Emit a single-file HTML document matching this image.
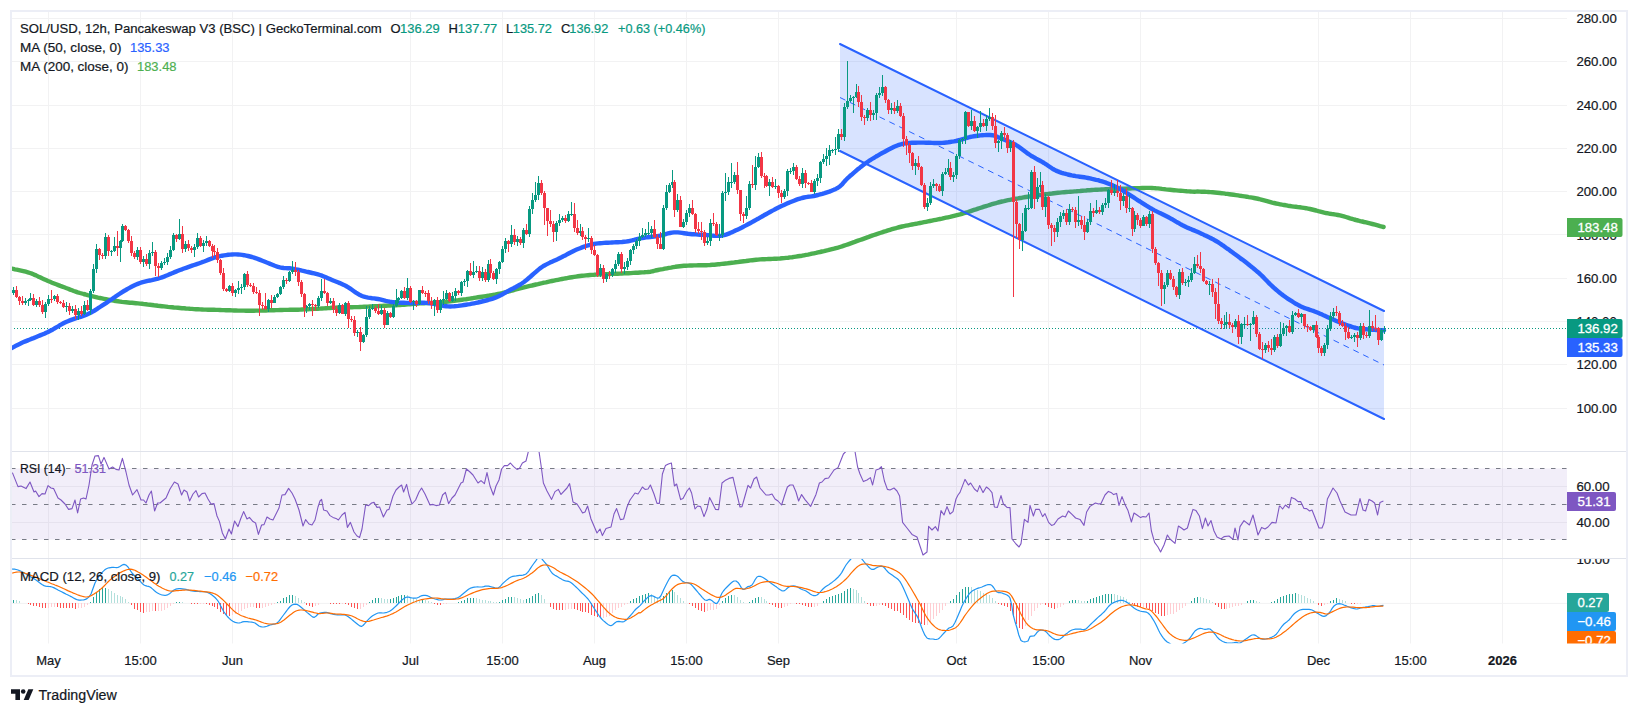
<!DOCTYPE html><html><head><meta charset="utf-8"><title>SOL/USD</title><style>html,body{margin:0;padding:0;background:#fff}body{width:1638px;height:715px;overflow:hidden;font-family:"Liberation Sans",sans-serif}</style></head><body><svg width="1638" height="715" viewBox="0 0 1638 715" style="display:block;font-family:'Liberation Sans',sans-serif">
<defs>
<clipPath id="cm"><rect x="11" y="11" width="1556" height="440.5"/></clipPath>
<clipPath id="cr"><rect x="11" y="452.0" width="1556" height="106.5"/></clipPath>
<clipPath id="cd"><rect x="11" y="559.0" width="1556" height="84.5"/></clipPath>
<clipPath id="cax1"><rect x="1567" y="11" width="60" height="440.5"/></clipPath>
<clipPath id="cax2"><rect x="1567" y="452.0" width="60" height="106.5"/></clipPath>
<clipPath id="cax3"><rect x="1567" y="559.0" width="60" height="84.5"/></clipPath>
</defs>
<rect width="1638" height="715" fill="#fff"/>
<path d="M48.5 11V643.5M140.5 11V643.5M232.5 11V643.5M410.5 11V643.5M502.5 11V643.5M594.5 11V643.5M686.5 11V643.5M778.5 11V643.5M956.5 11V643.5M1048.5 11V643.5M1140.5 11V643.5M1318.5 11V643.5M1410.5 11V643.5M1502.5 11V643.5M11 408.5H1567M11 364.5H1567M11 321.5H1567M11 278.5H1567M11 234.5H1567M11 191.5H1567M11 148.5H1567M11 105.5H1567M11 61.5H1567M11 18.5H1567M11 486.5H1567M11 522.5H1567M11 603.4H1567" stroke="#f2f2f3" stroke-width="1" fill="none"/>
<g clip-path="url(#cm)">
<line x1="11" y1="328.5" x2="1567" y2="328.5" stroke="#089981" stroke-width="1" stroke-dasharray="1 2"/>
<polyline points="10.0,268.0 12.0,268.6 13.3,268.9 14.9,269.3 16.8,269.7 18.9,270.1 21.1,270.6 23.4,271.1 25.7,271.7 27.9,272.3 30.0,273.0 32.0,273.7 34.0,274.6 36.0,275.4 38.0,276.4 40.0,277.3 42.0,278.3 44.0,279.2 46.0,280.1 48.0,281.0 50.0,281.8 52.1,282.7 54.1,283.5 56.2,284.3 58.3,285.1 60.3,285.9 62.3,286.6 64.2,287.3 66.0,288.0 68.2,288.8 70.1,289.6 72.0,290.3 73.8,291.0 75.7,291.6 77.7,292.3 80.0,293.0 81.8,293.5 83.6,294.0 85.6,294.5 87.6,295.1 89.6,295.6 91.7,296.1 93.8,296.6 95.9,297.1 98.0,297.6 100.0,298.0 102.0,298.4 104.0,298.8 106.0,299.2 108.0,299.6 110.0,300.0 112.0,300.3 114.0,300.7 116.0,301.0 118.0,301.3 120.0,301.6 122.0,301.9 124.0,302.1 126.0,302.3 128.0,302.5 130.0,302.7 132.0,302.8 134.0,303.0 136.0,303.2 138.0,303.4 140.0,303.6 142.0,303.8 144.0,304.1 146.0,304.3 148.0,304.6 150.0,304.8 152.0,305.0 154.0,305.3 156.0,305.5 158.0,305.8 160.0,306.0 162.0,306.2 164.0,306.4 166.0,306.6 168.0,306.9 170.0,307.1 172.0,307.3 174.0,307.5 176.0,307.6 178.0,307.8 180.0,308.0 182.0,308.2 184.0,308.3 186.0,308.5 188.0,308.6 190.0,308.8 192.0,308.9 194.0,309.1 196.0,309.2 198.0,309.3 200.0,309.4 202.0,309.5 204.0,309.6 206.0,309.6 208.0,309.7 210.0,309.8 212.0,309.8 214.0,309.8 216.0,309.9 218.0,309.9 220.0,310.0 222.0,310.1 224.0,310.1 226.0,310.2 228.0,310.3 230.0,310.3 232.0,310.4 234.0,310.5 236.0,310.5 238.0,310.6 240.0,310.6 242.0,310.6 244.0,310.6 246.0,310.7 248.0,310.7 250.0,310.7 252.0,310.7 254.0,310.7 256.0,310.6 258.0,310.6 260.0,310.6 262.0,310.6 264.0,310.5 266.0,310.5 268.0,310.4 270.0,310.3 272.0,310.3 274.0,310.2 276.0,310.1 278.0,310.1 280.0,310.0 282.0,310.0 284.0,309.9 286.0,309.9 288.0,309.9 290.0,309.8 292.0,309.8 294.0,309.8 296.0,309.7 298.0,309.7 300.0,309.6 302.0,309.5 304.0,309.4 306.0,309.4 308.0,309.3 310.0,309.1 312.0,309.0 314.0,308.9 316.0,308.8 318.0,308.7 320.0,308.6 322.0,308.5 324.0,308.4 326.0,308.2 328.0,308.1 330.0,308.0 332.0,307.8 334.0,307.7 336.0,307.6 338.0,307.5 340.0,307.4 342.0,307.3 344.0,307.3 346.0,307.2 348.0,307.2 350.0,307.2 352.0,307.2 354.0,307.1 356.0,307.1 358.0,307.1 360.0,307.0 362.0,306.9 364.0,306.8 366.0,306.7 368.0,306.6 370.0,306.5 372.0,306.4 374.0,306.3 376.0,306.2 378.0,306.1 380.0,306.0 382.0,305.9 384.0,305.8 386.0,305.7 388.0,305.6 390.0,305.5 392.0,305.4 394.0,305.3 396.0,305.2 398.0,305.1 400.0,305.0 402.0,304.9 404.0,304.7 406.0,304.5 408.0,304.4 410.0,304.2 412.0,304.0 414.0,303.9 416.0,303.7 418.0,303.5 420.0,303.4 422.0,303.3 424.0,303.2 426.0,303.1 428.0,303.0 430.0,302.9 432.0,302.9 434.0,302.8 436.0,302.7 438.0,302.6 440.0,302.4 442.0,302.2 444.0,302.0 446.0,301.8 448.0,301.6 450.0,301.3 452.0,301.1 454.0,300.8 456.0,300.5 458.0,300.3 460.0,300.0 462.0,299.7 464.0,299.4 466.0,299.2 468.0,298.9 470.0,298.6 472.0,298.3 474.0,297.9 476.0,297.6 478.0,297.3 480.0,297.0 482.0,296.7 484.0,296.4 486.0,296.1 488.0,295.8 490.0,295.4 492.0,295.1 494.0,294.8 496.0,294.4 498.0,294.0 500.0,293.6 502.0,293.2 504.0,292.7 506.0,292.2 508.0,291.6 510.0,291.1 512.0,290.5 514.0,290.0 516.0,289.4 518.0,288.9 520.0,288.4 522.0,287.9 524.0,287.4 526.0,286.9 528.0,286.4 530.0,285.9 532.0,285.5 534.0,285.0 536.0,284.5 538.0,284.1 540.0,283.6 542.0,283.2 544.0,282.7 546.0,282.3 548.0,281.8 550.0,281.4 552.0,281.0 554.0,280.6 556.0,280.2 558.0,279.8 560.0,279.4 562.0,279.0 564.0,278.6 566.0,278.3 568.0,277.9 570.0,277.5 572.0,277.2 574.0,276.9 576.0,276.6 578.0,276.3 580.0,276.0 582.0,275.8 584.0,275.6 586.0,275.4 588.0,275.2 590.0,275.0 592.0,274.9 594.0,274.8 596.0,274.6 598.0,274.5 600.0,274.4 602.0,274.3 603.9,274.2 605.8,274.1 607.6,274.1 609.5,274.0 611.5,273.9 613.4,273.9 615.5,273.8 617.7,273.7 620.0,273.6 621.9,273.5 624.0,273.4 626.2,273.3 628.5,273.2 630.8,273.1 633.2,272.9 635.6,272.8 637.9,272.7 640.1,272.5 642.2,272.4 644.2,272.3 646.0,272.1 647.6,272.0 650.6,271.7 652.3,271.3 653.7,271.0 655.3,270.5 658.0,270.0 659.5,269.7 661.2,269.4 662.9,269.1 664.8,268.7 666.8,268.3 668.9,267.9 671.0,267.6 673.2,267.2 675.4,266.8 677.6,266.5 679.8,266.2 682.0,266.0 683.9,265.8 685.9,265.7 687.9,265.6 689.9,265.5 692.0,265.5 694.1,265.4 696.2,265.4 698.3,265.3 700.4,265.3 702.5,265.3 704.5,265.2 706.4,265.2 708.2,265.1 710.0,265.0 712.3,264.8 714.4,264.7 716.3,264.5 718.2,264.3 720.0,264.2 721.8,263.9 723.7,263.7 725.6,263.5 727.7,263.3 730.0,263.0 731.8,262.8 733.6,262.6 735.6,262.3 737.6,262.1 739.7,261.8 741.8,261.5 743.9,261.2 746.0,261.0 748.1,260.7 750.2,260.4 752.3,260.2 754.2,260.0 756.2,259.8 758.0,259.6 760.2,259.4 762.4,259.3 764.5,259.2 766.5,259.1 768.5,259.0 770.5,259.0 772.4,258.9 774.3,258.8 776.2,258.8 778.1,258.6 780.0,258.5 782.1,258.3 784.1,258.1 786.1,257.9 788.1,257.7 790.1,257.4 792.1,257.2 794.1,256.9 796.0,256.6 798.0,256.3 800.0,256.0 802.0,255.7 804.0,255.3 806.0,254.9 808.0,254.6 810.0,254.2 812.0,253.7 814.0,253.3 816.0,252.9 818.0,252.4 820.0,252.0 822.0,251.5 824.0,251.1 826.0,250.6 828.0,250.2 830.0,249.7 832.0,249.2 834.0,248.7 836.0,248.1 838.0,247.6 840.0,247.0 842.0,246.4 844.0,245.7 846.0,245.0 848.0,244.3 850.0,243.6 852.0,242.9 854.0,242.2 856.0,241.4 858.0,240.7 860.0,240.0 862.0,239.3 864.0,238.6 866.0,237.9 868.0,237.2 870.0,236.4 872.0,235.7 874.0,235.0 876.0,234.3 878.0,233.7 880.0,233.0 882.0,232.4 884.0,231.7 886.0,231.1 888.0,230.4 890.0,229.8 892.0,229.2 894.0,228.6 896.0,228.1 898.0,227.5 900.0,227.0 902.0,226.5 904.0,226.1 906.0,225.7 908.0,225.3 910.0,224.9 912.0,224.5 914.0,224.1 916.0,223.8 918.0,223.4 920.0,223.0 922.0,222.6 924.0,222.2 926.0,221.8 928.0,221.4 930.0,221.0 932.0,220.6 934.0,220.2 936.0,219.8 938.0,219.4 940.0,219.0 942.0,218.6 944.0,218.1 946.0,217.7 948.0,217.3 950.0,216.9 952.0,216.4 954.0,215.9 956.0,215.4 958.0,214.9 960.0,214.4 962.0,213.8 964.0,213.2 966.0,212.6 968.0,212.0 970.0,211.3 972.0,210.6 974.0,209.9 976.0,209.3 978.0,208.6 980.0,208.0 982.0,207.4 984.0,206.7 986.0,206.1 988.0,205.5 990.0,204.8 992.0,204.2 994.0,203.6 996.0,203.1 998.0,202.5 1000.0,202.0 1002.0,201.5 1004.0,201.1 1006.0,200.6 1008.0,200.2 1010.0,199.8 1012.0,199.4 1014.0,199.1 1016.0,198.7 1018.0,198.4 1020.0,198.0 1022.0,197.7 1024.0,197.3 1026.0,197.0 1028.0,196.7 1030.0,196.4 1032.0,196.1 1034.0,195.8 1036.0,195.5 1038.0,195.3 1040.0,195.0 1042.0,194.7 1044.0,194.5 1046.0,194.2 1048.0,194.0 1050.0,193.7 1052.0,193.5 1054.0,193.2 1056.0,193.0 1058.0,192.8 1060.0,192.6 1062.0,192.4 1064.1,192.2 1066.3,192.0 1068.4,191.9 1070.5,191.7 1072.6,191.6 1074.6,191.4 1076.5,191.3 1078.3,191.1 1080.0,191.0 1082.4,190.8 1084.3,190.6 1086.0,190.5 1087.7,190.3 1089.6,190.2 1092.0,190.0 1093.7,189.9 1095.5,189.8 1097.4,189.7 1099.4,189.6 1101.5,189.5 1103.6,189.4 1105.7,189.3 1107.9,189.2 1110.0,189.1 1112.0,189.0 1114.0,188.9 1116.0,188.9 1118.0,188.8 1120.0,188.7 1122.0,188.7 1124.0,188.6 1126.0,188.6 1128.0,188.5 1130.0,188.5 1132.0,188.4 1134.0,188.3 1136.0,188.3 1138.0,188.2 1140.0,188.1 1142.0,188.0 1144.0,188.0 1146.0,187.9 1148.0,187.9 1150.0,187.9 1152.0,188.0 1154.0,188.1 1156.0,188.3 1158.0,188.4 1160.0,188.6 1162.0,188.9 1164.0,189.1 1166.0,189.4 1168.0,189.6 1170.0,189.8 1172.0,190.0 1174.1,190.2 1176.2,190.4 1178.4,190.6 1180.6,190.7 1182.8,190.9 1184.9,191.1 1186.9,191.3 1188.8,191.4 1190.5,191.5 1192.0,191.6 1194.6,191.7 1196.0,191.6 1197.4,191.5 1200.0,191.6 1201.5,191.7 1203.0,191.7 1204.7,191.8 1206.5,191.9 1208.4,192.0 1210.4,192.1 1212.6,192.3 1214.9,192.5 1217.4,192.7 1220.0,193.0 1221.7,193.2 1223.4,193.4 1225.3,193.7 1227.3,193.9 1229.4,194.2 1231.5,194.5 1233.7,194.8 1235.9,195.1 1238.1,195.4 1240.3,195.8 1242.5,196.1 1244.6,196.4 1246.7,196.7 1248.7,197.1 1250.6,197.4 1252.3,197.7 1254.0,198.0 1256.6,198.5 1259.0,199.0 1261.2,199.6 1263.2,200.1 1265.1,200.6 1267.0,201.1 1268.7,201.6 1270.5,202.1 1272.2,202.6 1274.0,203.0 1276.2,203.5 1278.2,203.9 1280.2,204.3 1282.1,204.7 1284.0,205.0 1286.0,205.3 1287.9,205.7 1290.0,206.0 1291.9,206.3 1293.9,206.6 1295.9,206.8 1297.9,207.1 1299.9,207.3 1301.9,207.6 1304.0,207.9 1306.0,208.2 1308.0,208.6 1310.0,209.0 1312.1,209.5 1314.1,210.0 1316.2,210.5 1318.3,211.1 1320.3,211.6 1322.3,212.1 1324.2,212.6 1326.0,213.0 1328.2,213.4 1330.2,213.8 1332.2,214.1 1334.1,214.3 1336.0,214.6 1337.9,215.0 1340.0,215.4 1341.9,215.9 1343.9,216.4 1345.9,217.0 1348.0,217.6 1350.1,218.3 1352.1,218.9 1354.1,219.5 1356.0,220.0 1358.1,220.5 1360.2,221.1 1362.2,221.5 1364.1,222.0 1366.1,222.4 1368.0,222.9 1370.0,223.4 1372.4,224.0 1375.1,224.7 1377.7,225.4 1380.1,226.1 1382.1,226.6 1383.6,227.0" fill="none" stroke="#4caf50" stroke-width="4.4" stroke-linejoin="round" stroke-linecap="round"/>
<polyline points="10.0,349.0 11.1,348.4 12.6,347.6 14.4,346.6 16.5,345.4 19.1,344.2 22.0,342.8 23.6,342.1 25.3,341.4 27.2,340.6 29.2,339.8 31.3,338.9 33.5,338.1 35.7,337.2 37.9,336.3 40.1,335.4 42.3,334.5 44.3,333.7 46.2,332.8 48.0,332.0 50.3,330.8 52.5,329.7 54.4,328.5 56.3,327.4 58.2,326.3 60.0,325.2 61.9,324.1 63.9,323.0 66.0,322.0 67.9,321.2 69.9,320.4 72.0,319.6 74.1,318.9 76.3,318.2 78.5,317.5 80.6,316.8 82.6,316.1 84.6,315.4 86.4,314.7 88.0,314.0 90.6,312.8 92.7,311.6 94.6,310.5 96.4,309.4 98.1,308.2 100.0,307.0 102.0,305.7 104.0,304.4 106.0,303.1 108.0,301.7 110.0,300.3 112.0,299.0 114.0,297.7 115.9,296.3 117.8,295.0 119.7,293.7 121.8,292.3 124.0,291.0 125.8,290.0 127.6,288.9 129.5,287.9 131.5,286.8 133.5,285.8 135.6,284.8 137.8,283.9 140.0,283.0 141.8,282.4 143.7,281.9 145.7,281.4 147.7,280.9 149.8,280.5 151.8,280.1 153.9,279.6 155.9,279.1 158.0,278.6 160.0,278.0 162.0,277.3 164.0,276.6 166.0,275.8 168.0,275.0 170.0,274.1 172.0,273.3 174.0,272.4 176.0,271.6 178.0,270.8 180.0,270.0 182.0,269.3 184.0,268.5 186.1,267.8 188.1,267.1 190.1,266.4 192.1,265.7 194.1,265.0 196.1,264.3 198.1,263.7 200.0,263.0 202.1,262.2 204.1,261.5 206.1,260.7 208.1,259.9 210.1,259.1 212.1,258.4 214.0,257.7 216.0,257.1 218.0,256.6 220.0,256.1 222.0,255.7 224.1,255.4 226.1,255.1 228.1,254.8 230.1,254.6 232.1,254.5 234.1,254.4 236.0,254.4 238.1,254.5 240.1,254.6 242.1,254.9 244.1,255.2 246.1,255.6 248.0,256.0 250.0,256.5 252.0,257.0 254.0,257.6 256.1,258.3 258.2,259.1 260.2,259.9 262.3,260.7 264.3,261.5 266.2,262.3 268.0,263.0 270.2,263.9 272.3,264.7 274.2,265.5 276.1,266.2 278.0,266.9 280.0,267.4 282.0,267.8 283.9,268.0 285.8,268.1 287.7,268.2 289.8,268.3 292.0,268.6 293.8,268.9 295.8,269.3 297.9,269.7 300.0,270.2 302.1,270.7 304.2,271.1 306.2,271.6 308.0,272.0 310.2,272.5 312.3,273.0 314.2,273.4 316.1,273.9 318.0,274.4 320.0,275.0 322.0,275.7 323.9,276.5 325.9,277.3 327.9,278.2 329.9,279.1 332.0,280.0 333.9,280.8 335.8,281.5 337.8,282.3 339.8,283.1 341.8,284.0 343.9,284.9 346.0,286.0 347.9,287.1 349.9,288.4 351.9,289.8 353.9,291.2 355.9,292.6 358.0,293.9 360.0,295.1 362.0,296.0 364.0,296.7 366.0,297.2 368.1,297.6 370.1,297.9 372.1,298.2 374.1,298.4 376.1,298.7 378.0,299.0 380.1,299.4 382.0,299.9 383.9,300.4 385.8,300.9 387.8,301.3 389.8,301.7 392.0,302.0 393.8,302.2 395.7,302.4 397.7,302.5 399.7,302.6 401.8,302.7 403.9,302.8 405.9,302.9 408.0,302.9 410.0,303.0 412.0,303.0 414.0,303.0 415.9,302.9 417.9,302.9 419.9,302.8 421.9,302.8 423.9,302.8 425.9,302.9 428.0,303.0 429.9,303.2 431.9,303.5 434.0,303.9 436.0,304.3 438.1,304.8 440.2,305.2 442.2,305.6 444.2,306.0 446.2,306.2 448.0,306.4 450.2,306.5 452.3,306.4 454.3,306.3 456.2,306.1 458.2,305.9 460.1,305.6 462.0,305.3 464.0,305.0 466.0,304.7 468.0,304.4 470.0,304.1 472.0,303.7 474.0,303.3 476.0,302.9 478.0,302.5 480.0,302.0 482.0,301.5 484.0,301.0 486.1,300.5 488.1,300.0 490.1,299.4 492.1,298.8 494.1,298.1 496.0,297.4 498.1,296.5 500.1,295.5 502.1,294.5 504.1,293.4 506.1,292.2 508.0,291.1 510.0,290.0 512.0,288.9 513.9,288.0 515.8,287.0 517.7,285.9 519.7,284.8 521.8,283.5 524.0,282.0 525.8,280.6 527.7,279.0 529.7,277.3 531.7,275.5 533.8,273.6 535.9,271.8 537.9,270.1 540.0,268.4 542.0,267.0 544.0,265.7 546.0,264.6 548.0,263.6 550.0,262.6 552.0,261.7 554.0,260.8 556.0,259.9 558.0,259.0 560.0,258.0 562.0,257.0 564.0,255.9 566.1,254.9 568.1,253.8 570.1,252.7 572.1,251.7 574.1,250.7 576.1,249.8 578.0,249.0 580.1,248.2 582.1,247.4 584.1,246.7 586.1,246.0 588.1,245.4 590.0,244.9 592.0,244.4 594.0,244.0 596.0,243.6 598.0,243.4 600.0,243.2 602.0,243.1 604.0,242.9 606.0,242.8 608.0,242.7 610.0,242.6 612.0,242.5 614.0,242.4 616.0,242.3 618.0,242.2 620.0,242.1 622.0,242.0 624.0,241.8 626.0,241.6 628.0,241.3 630.0,240.8 632.0,240.4 634.0,239.9 636.0,239.3 638.0,238.8 640.0,238.4 642.0,238.0 644.0,237.7 646.0,237.4 648.0,237.2 650.0,237.0 652.0,236.8 654.0,236.6 656.0,236.3 658.0,236.0 660.0,235.6 662.0,235.1 664.0,234.5 666.0,234.0 668.0,233.4 670.0,233.0 672.0,232.6 674.0,232.4 676.0,232.4 678.0,232.4 680.0,232.6 682.0,232.9 684.0,233.2 686.0,233.5 688.0,233.8 690.0,234.0 692.0,234.2 694.0,234.3 696.0,234.4 698.0,234.6 700.0,234.7 702.0,234.8 704.0,234.9 706.0,235.0 708.0,235.1 710.0,235.3 712.0,235.6 714.0,235.8 716.0,235.9 718.0,235.9 720.0,235.9 722.0,235.6 724.0,235.2 726.0,234.6 728.0,233.9 730.0,233.1 732.0,232.2 734.0,231.3 736.0,230.3 738.0,229.4 740.0,228.5 742.0,227.5 744.0,226.4 746.0,225.4 748.0,224.3 750.0,223.2 752.0,222.1 754.0,221.0 756.0,219.9 758.0,218.8 760.0,217.6 762.0,216.5 764.0,215.3 766.0,214.2 768.0,213.1 770.0,212.0 772.0,210.9 774.0,209.9 776.0,208.8 778.0,207.8 780.0,206.8 782.0,205.8 784.0,204.9 786.0,204.0 788.0,203.1 790.0,202.3 792.0,201.5 794.0,200.7 796.0,199.9 798.0,199.2 800.0,198.6 802.0,198.0 804.0,197.5 805.9,197.1 807.8,196.8 809.8,196.6 811.7,196.3 813.7,196.0 815.8,195.5 818.0,195.0 820.1,194.4 822.3,193.8 824.6,193.1 827.0,192.3 829.3,191.6 831.6,190.7 833.8,189.8 835.8,188.9 837.6,188.0 840.1,186.2 842.1,184.4 843.7,182.4 845.6,180.2 848.0,177.8 849.7,176.3 851.5,174.8 853.4,173.1 855.4,171.4 857.4,169.6 859.6,167.9 861.7,166.2 863.9,164.5 866.0,163.0 867.9,161.7 869.9,160.3 872.0,159.0 874.0,157.8 876.1,156.5 878.2,155.3 880.2,154.1 882.2,153.0 884.2,152.0 886.0,151.0 888.2,149.8 890.2,148.8 892.2,147.8 894.1,146.8 896.0,146.0 898.0,145.2 899.9,144.6 902.0,144.0 903.9,143.6 905.8,143.3 907.8,143.1 909.8,142.9 911.8,142.8 913.8,142.7 915.8,142.7 917.9,142.6 920.0,142.6 921.9,142.6 923.9,142.6 926.0,142.7 928.0,142.7 930.1,142.8 932.2,142.9 934.2,143.0 936.2,143.0 938.2,143.0 940.0,143.0 942.2,142.9 944.3,142.7 946.3,142.5 948.2,142.3 950.2,142.0 952.1,141.7 954.0,141.4 956.0,141.0 958.0,140.5 960.0,140.0 961.9,139.4 963.9,138.8 965.9,138.2 967.9,137.6 969.9,137.0 972.0,136.6 974.0,136.3 976.0,136.0 978.1,135.7 980.3,135.4 982.4,135.2 984.5,135.1 986.5,135.0 988.3,135.0 990.0,135.0 992.4,135.2 994.3,135.7 996.0,136.3 997.7,137.1 1000.0,138.0 1001.7,138.7 1003.6,139.4 1005.6,140.2 1007.8,141.1 1009.9,142.0 1012.0,142.9 1014.1,144.0 1016.0,145.0 1018.1,146.3 1020.1,147.7 1022.1,149.2 1024.1,150.7 1026.1,152.2 1028.0,153.7 1030.0,155.0 1032.0,156.3 1034.1,157.4 1036.1,158.6 1038.1,159.7 1040.1,160.8 1042.1,161.9 1044.0,163.0 1046.1,164.3 1048.1,165.7 1050.0,167.0 1051.9,168.3 1053.9,169.5 1056.0,170.6 1057.9,171.4 1059.7,172.1 1061.7,172.8 1063.6,173.4 1065.7,173.9 1067.8,174.5 1070.0,175.0 1071.8,175.4 1073.8,175.7 1075.8,176.1 1077.8,176.4 1079.9,176.7 1082.0,177.0 1084.1,177.3 1086.1,177.6 1088.0,178.0 1090.1,178.4 1092.1,178.9 1094.1,179.3 1096.1,179.8 1098.1,180.2 1100.0,180.8 1102.0,181.3 1104.0,182.0 1106.0,182.7 1108.0,183.5 1110.0,184.3 1112.0,185.1 1114.0,186.0 1116.0,187.0 1118.0,188.0 1120.0,189.0 1122.0,190.1 1124.0,191.3 1126.0,192.5 1128.0,193.8 1130.0,195.1 1132.0,196.4 1134.0,197.7 1136.0,199.0 1138.0,200.3 1140.0,201.5 1142.0,202.8 1144.0,204.1 1146.0,205.4 1148.0,206.6 1150.0,207.8 1152.0,209.0 1154.0,210.1 1156.0,211.1 1158.0,212.1 1160.0,213.1 1162.0,214.0 1164.0,215.0 1166.0,216.0 1168.0,217.0 1170.0,218.1 1172.0,219.2 1174.0,220.4 1176.0,221.6 1178.0,222.7 1180.0,223.9 1182.0,225.0 1184.0,226.0 1186.0,227.0 1188.0,227.9 1190.0,228.7 1192.0,229.6 1194.0,230.4 1196.0,231.2 1198.0,232.1 1200.0,233.0 1202.0,233.9 1204.0,234.9 1206.0,235.8 1208.0,236.8 1210.0,237.7 1212.0,238.8 1214.0,239.8 1216.0,241.0 1218.0,242.2 1220.0,243.5 1222.0,244.9 1224.0,246.2 1226.0,247.7 1228.0,249.1 1230.0,250.6 1232.0,252.0 1234.0,253.5 1236.1,255.0 1238.2,256.5 1240.2,258.1 1242.3,259.6 1244.3,261.1 1246.2,262.6 1248.0,264.0 1250.2,265.8 1252.3,267.4 1254.2,269.0 1256.1,270.6 1258.0,272.2 1260.0,274.0 1262.0,275.9 1264.0,277.9 1266.0,280.0 1268.0,282.1 1270.0,284.1 1272.0,286.0 1274.0,287.8 1275.9,289.5 1277.8,291.1 1279.7,292.7 1281.8,294.4 1284.0,296.0 1285.8,297.3 1287.7,298.6 1289.7,299.9 1291.8,301.2 1293.8,302.5 1295.9,303.8 1298.0,304.9 1300.0,306.0 1302.0,306.9 1304.0,307.8 1306.0,308.5 1308.0,309.2 1310.0,309.9 1312.0,310.5 1314.0,311.2 1316.0,312.0 1318.0,312.8 1320.1,313.7 1322.2,314.6 1324.2,315.6 1326.3,316.5 1328.3,317.4 1330.2,318.2 1332.0,319.0 1334.2,320.0 1336.3,320.9 1338.2,321.7 1340.1,322.5 1342.0,323.2 1344.0,324.0 1346.0,324.8 1348.0,325.5 1350.0,326.2 1352.0,326.9 1354.0,327.5 1356.0,328.0 1358.0,328.4 1359.9,328.7 1361.8,328.9 1363.7,329.1 1365.8,329.2 1368.0,329.4 1369.9,329.6 1372.1,329.7 1374.4,329.8 1376.8,330.0 1379.0,330.1 1381.0,330.2 1382.7,330.3 1384.0,330.4" fill="none" stroke="#2962ff" stroke-width="4.4" stroke-linejoin="round" stroke-linecap="round"/>
<polygon points="840,44 1384,311 1384,419 840,151" fill="#2962ff" fill-opacity="0.18"/>
<line x1="840" y1="97.5" x2="1384" y2="365" stroke="#2962ff" stroke-width="1" stroke-dasharray="6 5"/>
<line x1="840" y1="44" x2="1384" y2="311" stroke="#2962ff" stroke-width="2" stroke-linecap="round"/>
<line x1="840" y1="151" x2="1384" y2="419" stroke="#2962ff" stroke-width="2" stroke-linecap="round"/>
<path d="M13 286.5h1V294.5h-1zM25 297.7h1V304.7h-1zM28 299.1h1V306.1h-1zM30 293.0h1V301.1h-1zM36 298.6h1V307.2h-1zM45 301.7h1V318.0h-1zM48 294.6h1V305.7h-1zM54 294.6h1V301.3h-1zM66 302.0h1V312.0h-1zM72 305.5h1V313.3h-1zM78 308.0h1V319.8h-1zM84 301.0h1V314.5h-1zM90 288.8h1V315.2h-1zM93 263.9h1V292.8h-1zM96 244.0h1V272.9h-1zM105 233.4h1V258.7h-1zM111 250.1h1V256.0h-1zM114 237.0h1V252.1h-1zM120 240.1h1V262.0h-1zM122 224.3h1V242.1h-1zM137 247.0h1V260.3h-1zM143 255.7h1V267.0h-1zM149 250.3h1V268.8h-1zM152 242.0h1V256.3h-1zM161 260.7h1V269.6h-1zM164 258.3h1V265.3h-1zM167 253.0h1V265.3h-1zM170 245.5h1V259.4h-1zM173 233.0h1V250.5h-1zM179 219.0h1V240.2h-1zM185 241.2h1V251.7h-1zM194 243.8h1V257.0h-1zM197 232.9h1V248.8h-1zM203 239.5h1V252.0h-1zM206 236.0h1V245.5h-1zM229 284.8h1V292.3h-1zM235 289.1h1V297.0h-1zM238 281.0h1V294.1h-1zM241 283.9h1V294.0h-1zM244 273.0h1V289.9h-1zM268 298.6h1V311.6h-1zM274 295.2h1V303.0h-1zM277 293.4h1V298.2h-1zM280 286.3h1V295.4h-1zM283 276.2h1V289.3h-1zM289 270.8h1V281.7h-1zM292 261.0h1V273.8h-1zM306 304.7h1V312.5h-1zM309 302.6h1V309.7h-1zM318 296.1h1V308.3h-1zM321 279.0h1V301.1h-1zM330 298.4h1V304.1h-1zM339 303.4h1V313.6h-1zM345 302.0h1V316.0h-1zM357 330.0h1V337.4h-1zM363 334.2h1V343.2h-1zM366 306.0h1V337.2h-1zM369 305.9h1V319.0h-1zM372 303.7h1V309.9h-1zM381 305.0h1V315.2h-1zM387 311.1h1V325.0h-1zM393 303.7h1V318.3h-1zM396 289.0h1V306.7h-1zM398 297.3h1V302.8h-1zM401 290.0h1V299.3h-1zM407 278.0h1V299.9h-1zM413 300.1h1V310.0h-1zM419 290.0h1V304.7h-1zM434 298.6h1V315.6h-1zM440 298.5h1V313.2h-1zM443 291.0h1V305.4h-1zM446 290.4h1V300.4h-1zM452 292.1h1V302.4h-1zM455 288.3h1V301.1h-1zM461 281.0h1V295.8h-1zM464 279.0h1V286.4h-1zM467 270.1h1V287.0h-1zM473 261.0h1V277.8h-1zM476 265.8h1V273.4h-1zM482 267.2h1V281.3h-1zM488 260.0h1V281.9h-1zM496 267.9h1V283.6h-1zM499 260.8h1V274.0h-1zM502 246.4h1V262.8h-1zM505 238.0h1V253.4h-1zM511 225.0h1V247.1h-1zM517 235.7h1V246.0h-1zM523 227.9h1V247.8h-1zM529 205.9h1V236.6h-1zM532 193.0h1V213.9h-1zM535 182.0h1V201.8h-1zM538 176.0h1V199.5h-1zM556 220.5h1V241.0h-1zM559 214.0h1V225.5h-1zM562 216.2h1V222.2h-1zM568 211.1h1V221.5h-1zM571 202.0h1V215.5h-1zM580 224.0h1V236.0h-1zM588 228.0h1V241.7h-1zM600 264.0h1V277.3h-1zM606 272.8h1V282.0h-1zM612 268.2h1V277.1h-1zM615 259.9h1V273.2h-1zM618 252.0h1V265.9h-1zM624 262.2h1V274.0h-1zM627 258.1h1V270.2h-1zM630 249.2h1V265.1h-1zM633 243.5h1V254.2h-1zM636 239.2h1V248.5h-1zM639 232.9h1V245.6h-1zM642 227.6h1V237.9h-1zM645 229.4h1V236.8h-1zM648 222.0h1V235.4h-1zM651 226.0h1V238.4h-1zM663 204.8h1V249.8h-1zM666 185.0h1V209.8h-1zM669 183.0h1V192.8h-1zM672 170.0h1V188.0h-1zM677 194.0h1V212.4h-1zM683 218.6h1V227.9h-1zM686 209.7h1V224.6h-1zM689 203.7h1V216.7h-1zM707 237.2h1V244.6h-1zM710 218.6h1V246.2h-1zM719 224.0h1V240.8h-1zM722 191.3h1V238.4h-1zM725 173.0h1V201.0h-1zM728 176.9h1V194.5h-1zM731 163.0h1V187.8h-1zM734 172.0h1V183.8h-1zM746 196.0h1V219.1h-1zM749 180.5h1V210.4h-1zM755 156.0h1V190.0h-1zM758 152.7h1V168.0h-1zM769 178.8h1V195.6h-1zM775 179.0h1V189.2h-1zM784 189.2h1V199.1h-1zM787 169.2h1V196.2h-1zM790 167.9h1V173.9h-1zM793 163.0h1V174.9h-1zM802 167.9h1V188.0h-1zM814 179.2h1V194.2h-1zM817 174.0h1V186.2h-1zM820 161.3h1V183.1h-1zM823 153.8h1V164.3h-1zM826 148.0h1V166.0h-1zM829 144.6h1V165.0h-1zM832 148.5h1V152.5h-1zM835 137.0h1V154.9h-1zM838 129.3h1V151.9h-1zM844 102.6h1V141.2h-1zM847 61.0h1V108.6h-1zM850 95.0h1V101.9h-1zM853 96.1h1V112.6h-1zM856 84.0h1V98.1h-1zM867 108.0h1V120.5h-1zM873 109.7h1V120.4h-1zM876 93.2h1V120.0h-1zM879 87.0h1V98.2h-1zM882 75.0h1V96.4h-1zM891 102.5h1V113.8h-1zM897 100.0h1V113.2h-1zM915 159.3h1V175.0h-1zM927 197.7h1V210.6h-1zM930 182.4h1V204.7h-1zM933 179.0h1V188.4h-1zM942 172.4h1V195.6h-1zM945 167.7h1V175.4h-1zM948 159.0h1V174.7h-1zM953 172.4h1V181.6h-1zM956 154.1h1V179.4h-1zM959 138.6h1V159.1h-1zM962 137.6h1V143.6h-1zM965 110.6h1V143.6h-1zM971 110.0h1V130.4h-1zM977 125.7h1V138.0h-1zM980 111.0h1V131.7h-1zM986 115.0h1V131.4h-1zM989 108.0h1V121.4h-1zM998 139.7h1V152.0h-1zM1001 131.2h1V149.0h-1zM1010 140.2h1V152.0h-1zM1022 213.0h1V250.6h-1zM1025 204.9h1V231.9h-1zM1028 192.0h1V209.6h-1zM1031 170.0h1V208.6h-1zM1037 178.0h1V202.4h-1zM1040 172.0h1V192.3h-1zM1045 193.7h1V217.0h-1zM1057 218.4h1V237.0h-1zM1060 211.9h1V227.0h-1zM1063 210.3h1V218.9h-1zM1069 204.0h1V224.5h-1zM1078 196.0h1V225.9h-1zM1087 218.6h1V233.3h-1zM1090 203.0h1V224.6h-1zM1096 200.0h1V213.8h-1zM1102 202.5h1V214.8h-1zM1105 197.5h1V207.5h-1zM1108 188.7h1V207.5h-1zM1114 184.0h1V196.4h-1zM1123 192.6h1V206.0h-1zM1129 195.0h1V211.7h-1zM1134 210.5h1V232.2h-1zM1143 214.7h1V225.8h-1zM1149 210.8h1V228.0h-1zM1164 282.0h1V304.0h-1zM1167 270.0h1V287.0h-1zM1179 269.0h1V298.6h-1zM1185 279.4h1V286.4h-1zM1188 276.3h1V287.4h-1zM1191 268.0h1V282.3h-1zM1194 257.0h1V274.0h-1zM1209 280.5h1V295.0h-1zM1224 315.0h1V329.2h-1zM1226 312.0h1V329.2h-1zM1235 319.0h1V327.6h-1zM1241 323.2h1V344.0h-1zM1244 317.0h1V327.8h-1zM1250 323.3h1V341.0h-1zM1253 311.0h1V325.3h-1zM1265 343.0h1V352.9h-1zM1274 335.0h1V351.5h-1zM1280 322.0h1V346.7h-1zM1283 322.6h1V336.2h-1zM1286 324.8h1V336.0h-1zM1292 311.0h1V333.7h-1zM1295 312.0h1V315.8h-1zM1301 313.4h1V323.0h-1zM1313 325.0h1V332.8h-1zM1324 342.5h1V355.6h-1zM1327 324.8h1V348.5h-1zM1330 312.0h1V330.8h-1zM1333 308.0h1V318.9h-1zM1351 334.8h1V339.2h-1zM1354 332.5h1V341.8h-1zM1360 322.8h1V339.9h-1zM1369 310.0h1V338.0h-1zM1381 328.0h1V340.7h-1zM1384 326.0h1V333.5h-1zM12 289.5h3V292.5h-3zM24 300.7h3V302.7h-3zM27 300.1h3V301.1h-3zM29 298.3h3V300.1h-3zM35 300.6h3V305.2h-3zM44 303.7h3V311.5h-3zM47 298.6h3V303.7h-3zM53 295.6h3V299.3h-3zM65 306.0h3V307.0h-3zM71 308.5h3V311.3h-3zM77 311.0h3V314.8h-3zM83 304.5h3V313.5h-3zM89 290.8h3V310.2h-3zM92 268.9h3V290.8h-3zM95 248.6h3V268.9h-3zM104 237.4h3V255.7h-3zM110 251.1h3V252.1h-3zM113 245.6h3V251.1h-3zM119 241.1h3V247.8h-3zM121 226.3h3V241.1h-3zM136 250.2h3V257.3h-3zM142 258.7h3V262.4h-3zM148 253.3h3V263.8h-3zM151 252.0h3V253.3h-3zM160 262.7h3V267.6h-3zM163 262.3h3V263.3h-3zM166 257.4h3V262.3h-3zM169 249.5h3V257.4h-3zM172 235.4h3V249.5h-3zM178 233.8h3V239.2h-3zM184 244.2h3V248.7h-3zM193 246.8h3V249.8h-3zM196 237.9h3V246.8h-3zM202 242.5h3V245.9h-3zM205 241.2h3V242.5h-3zM228 285.8h3V291.3h-3zM234 290.1h3V292.6h-3zM237 287.9h3V290.1h-3zM240 286.9h3V287.9h-3zM243 274.0h3V286.9h-3zM267 299.6h3V308.6h-3zM273 297.2h3V303.0h-3zM276 294.4h3V297.2h-3zM279 287.3h3V294.4h-3zM282 280.2h3V287.3h-3zM288 271.8h3V280.7h-3zM291 269.6h3V271.8h-3zM305 305.7h3V307.5h-3zM308 303.6h3V305.7h-3zM317 298.1h3V306.3h-3zM320 291.2h3V298.1h-3zM329 301.4h3V303.1h-3zM338 305.4h3V312.6h-3zM344 303.2h3V314.0h-3zM356 332.0h3V333.4h-3zM362 335.2h3V342.2h-3zM365 317.4h3V335.2h-3zM368 308.9h3V317.4h-3zM371 307.7h3V308.9h-3zM380 310.3h3V314.2h-3zM386 313.1h3V324.5h-3zM392 305.7h3V317.3h-3zM395 299.8h3V305.7h-3zM397 298.3h3V299.8h-3zM400 291.4h3V298.3h-3zM406 288.4h3V297.9h-3zM412 301.1h3V302.1h-3zM418 290.0h3V303.7h-3zM433 299.6h3V304.7h-3zM439 299.5h3V310.2h-3zM442 299.4h3V300.4h-3zM445 293.4h3V299.4h-3zM451 296.1h3V301.4h-3zM454 291.3h3V296.1h-3zM460 282.0h3V292.8h-3zM463 281.4h3V282.4h-3zM466 271.1h3V281.4h-3zM472 272.4h3V274.8h-3zM475 270.8h3V272.4h-3zM481 272.2h3V278.3h-3zM487 263.8h3V279.9h-3zM495 268.9h3V278.8h-3zM498 261.8h3V268.9h-3zM501 249.4h3V261.8h-3zM504 240.8h3V249.4h-3zM510 235.1h3V244.1h-3zM516 238.7h3V241.6h-3zM522 229.9h3V242.8h-3zM528 208.9h3V233.6h-3zM531 199.8h3V208.9h-3zM534 194.5h3V199.8h-3zM537 182.6h3V194.5h-3zM555 222.5h3V231.7h-3zM558 220.2h3V222.5h-3zM561 218.2h3V220.2h-3zM567 214.1h3V220.5h-3zM570 213.5h3V214.5h-3zM579 230.9h3V233.0h-3zM587 237.5h3V238.7h-3zM599 268.0h3V275.3h-3zM605 273.8h3V279.4h-3zM611 269.2h3V275.1h-3zM614 263.9h3V269.2h-3zM617 254.4h3V263.9h-3zM623 267.2h3V269.4h-3zM626 261.1h3V267.2h-3zM629 250.2h3V261.1h-3zM632 245.5h3V250.2h-3zM635 241.2h3V245.5h-3zM638 236.9h3V241.2h-3zM641 234.8h3V236.9h-3zM644 233.4h3V234.8h-3zM647 233.4h3V234.4h-3zM650 229.0h3V233.4h-3zM662 207.8h3V248.8h-3zM665 191.8h3V207.8h-3zM668 185.0h3V191.8h-3zM671 182.3h3V185.0h-3zM676 200.4h3V210.4h-3zM682 221.6h3V226.9h-3zM685 212.7h3V221.6h-3zM688 207.7h3V212.7h-3zM706 241.2h3V242.6h-3zM709 222.6h3V241.2h-3zM718 234.8h3V235.8h-3zM721 193.3h3V234.8h-3zM724 191.5h3V193.3h-3zM727 181.9h3V191.5h-3zM730 181.8h3V182.8h-3zM733 175.0h3V181.8h-3zM745 208.4h3V216.1h-3zM748 183.5h3V208.4h-3zM754 167.0h3V185.0h-3zM757 156.7h3V167.0h-3zM768 181.8h3V185.8h-3zM774 186.1h3V187.2h-3zM783 191.2h3V197.1h-3zM786 171.2h3V191.2h-3zM789 170.9h3V171.9h-3zM792 167.4h3V170.9h-3zM801 172.9h3V184.0h-3zM813 181.2h3V192.2h-3zM816 178.1h3V181.2h-3zM819 162.3h3V178.1h-3zM822 158.8h3V162.3h-3zM825 156.3h3V158.8h-3zM828 149.6h3V156.3h-3zM831 149.5h3V150.5h-3zM834 148.9h3V149.9h-3zM837 134.3h3V148.9h-3zM843 106.6h3V137.2h-3zM846 100.9h3V106.6h-3zM849 97.9h3V100.9h-3zM852 97.1h3V98.1h-3zM855 91.5h3V97.1h-3zM866 110.0h3V117.5h-3zM872 112.7h3V115.4h-3zM875 95.2h3V112.7h-3zM878 93.4h3V95.2h-3zM881 86.5h3V93.4h-3zM890 107.5h3V109.8h-3zM896 105.8h3V111.2h-3zM914 163.3h3V165.5h-3zM926 202.7h3V206.6h-3zM929 186.4h3V202.7h-3zM932 183.8h3V186.4h-3zM941 174.4h3V190.7h-3zM944 171.7h3V174.4h-3zM947 168.4h3V171.7h-3zM952 175.4h3V176.9h-3zM955 156.1h3V175.4h-3zM958 139.6h3V156.1h-3zM961 138.6h3V139.6h-3zM964 111.6h3V138.6h-3zM970 121.1h3V126.4h-3zM976 126.7h3V131.1h-3zM979 122.8h3V126.7h-3zM985 119.4h3V126.4h-3zM988 116.9h3V119.4h-3zM997 140.7h3V142.7h-3zM1000 133.2h3V140.7h-3zM1009 142.2h3V148.1h-3zM1021 230.9h3V240.0h-3zM1024 207.9h3V230.9h-3zM1027 207.6h3V208.6h-3zM1030 171.8h3V207.6h-3zM1036 187.3h3V199.4h-3zM1039 185.4h3V187.3h-3zM1044 196.7h3V207.3h-3zM1056 222.4h3V232.0h-3zM1059 215.9h3V222.4h-3zM1062 213.3h3V215.9h-3zM1068 209.4h3V221.5h-3zM1077 220.2h3V221.9h-3zM1086 221.6h3V232.3h-3zM1089 210.9h3V221.6h-3zM1095 209.9h3V212.8h-3zM1101 204.5h3V211.8h-3zM1104 202.5h3V204.5h-3zM1107 189.7h3V202.5h-3zM1113 191.0h3V193.4h-3zM1122 195.6h3V201.2h-3zM1128 207.7h3V208.7h-3zM1133 214.5h3V229.2h-3zM1142 216.7h3V225.8h-3zM1148 213.8h3V223.7h-3zM1163 285.0h3V288.5h-3zM1166 272.5h3V285.0h-3zM1178 272.3h3V294.9h-3zM1184 282.4h3V283.4h-3zM1187 280.3h3V282.4h-3zM1190 273.0h3V280.3h-3zM1193 263.5h3V273.0h-3zM1208 283.5h3V284.5h-3zM1223 324.2h3V325.2h-3zM1225 321.8h3V324.2h-3zM1234 321.0h3V326.6h-3zM1240 324.2h3V337.1h-3zM1243 323.8h3V324.8h-3zM1249 324.3h3V325.4h-3zM1252 317.0h3V324.3h-3zM1264 345.2h3V349.9h-3zM1273 337.4h3V349.5h-3zM1279 334.2h3V345.7h-3zM1282 327.6h3V334.2h-3zM1285 325.8h3V327.6h-3zM1291 314.8h3V331.7h-3zM1294 313.4h3V314.8h-3zM1300 314.4h3V316.7h-3zM1312 325.2h3V329.8h-3zM1323 344.5h3V352.6h-3zM1326 328.8h3V344.5h-3zM1329 315.9h3V328.8h-3zM1332 311.8h3V315.9h-3zM1350 336.8h3V338.2h-3zM1353 334.5h3V336.8h-3zM1359 325.8h3V337.9h-3zM1368 326.1h3V335.7h-3zM1380 330.0h3V339.7h-3zM1383 329.5h3V330.5h-3z" fill="#089981" shape-rendering="crispEdges"/>
<path d="M16 286.0h1V297.6h-1zM19 295.6h1V305.4h-1zM22 296.4h1V304.7h-1zM33 294.3h1V306.2h-1zM39 296.6h1V307.4h-1zM42 300.4h1V313.5h-1zM51 289.6h1V302.6h-1zM57 294.0h1V304.2h-1zM60 301.2h1V304.2h-1zM63 300.2h1V307.5h-1zM69 303.0h1V315.3h-1zM75 304.5h1V318.8h-1zM81 306.0h1V315.5h-1zM87 299.5h1V311.0h-1zM99 247.6h1V260.0h-1zM102 252.7h1V258.7h-1zM108 235.0h1V256.3h-1zM117 231.0h1V256.0h-1zM125 225.3h1V230.9h-1zM128 229.0h1V242.6h-1zM131 235.6h1V256.3h-1zM134 251.3h1V259.3h-1zM140 247.2h1V264.4h-1zM146 253.7h1V265.8h-1zM155 250.0h1V276.0h-1zM158 263.0h1V277.0h-1zM176 234.4h1V242.2h-1zM182 226.0h1V252.7h-1zM188 240.2h1V250.8h-1zM191 245.8h1V252.8h-1zM200 235.9h1V246.9h-1zM209 240.2h1V246.7h-1zM212 243.7h1V258.0h-1zM214 245.0h1V256.4h-1zM217 248.4h1V262.7h-1zM220 258.7h1V275.3h-1zM223 268.3h1V290.6h-1zM226 287.6h1V292.3h-1zM232 282.8h1V296.0h-1zM247 271.0h1V286.7h-1zM250 282.7h1V286.7h-1zM253 283.0h1V294.1h-1zM256 287.1h1V294.1h-1zM259 290.0h1V316.0h-1zM262 302.1h1V310.1h-1zM265 293.0h1V309.6h-1zM271 294.6h1V308.0h-1zM286 278.2h1V284.0h-1zM295 262.0h1V276.3h-1zM298 270.3h1V285.7h-1zM301 279.7h1V296.8h-1zM304 292.8h1V317.0h-1zM312 299.6h1V316.0h-1zM315 304.2h1V311.3h-1zM324 279.0h1V294.2h-1zM327 292.2h1V306.1h-1zM333 298.4h1V313.2h-1zM336 306.2h1V315.6h-1zM342 304.4h1V314.0h-1zM348 301.2h1V328.0h-1zM351 316.4h1V322.4h-1zM354 315.5h1V336.4h-1zM360 327.0h1V350.6h-1zM375 305.7h1V312.7h-1zM378 304.0h1V315.2h-1zM384 308.3h1V327.5h-1zM390 312.1h1V318.3h-1zM404 287.4h1V298.9h-1zM410 286.4h1V302.7h-1zM416 300.1h1V307.0h-1zM422 286.0h1V293.8h-1zM425 290.8h1V296.8h-1zM428 290.2h1V304.3h-1zM431 297.3h1V309.4h-1zM437 296.6h1V313.2h-1zM449 292.0h1V302.4h-1zM458 290.3h1V294.8h-1zM470 263.0h1V275.8h-1zM479 265.8h1V281.4h-1zM485 269.2h1V281.9h-1zM490 259.0h1V278.4h-1zM493 271.4h1V279.8h-1zM508 239.8h1V251.6h-1zM514 229.0h1V244.6h-1zM520 236.7h1V245.0h-1zM526 224.0h1V234.6h-1zM541 179.6h1V194.6h-1zM544 190.6h1V225.0h-1zM547 208.3h1V235.6h-1zM550 210.0h1V227.1h-1zM553 221.1h1V242.4h-1zM565 215.2h1V222.5h-1zM574 203.0h1V231.5h-1zM577 220.0h1V235.0h-1zM582 226.9h1V239.8h-1zM585 234.8h1V250.0h-1zM591 235.5h1V253.9h-1zM594 244.9h1V256.3h-1zM597 254.3h1V277.0h-1zM603 265.0h1V282.8h-1zM609 270.8h1V279.1h-1zM621 252.4h1V273.0h-1zM654 220.0h1V237.6h-1zM657 233.6h1V248.6h-1zM660 232.0h1V248.8h-1zM674 180.0h1V216.6h-1zM680 196.4h1V226.9h-1zM692 199.6h1V215.0h-1zM695 213.0h1V232.7h-1zM698 222.0h1V233.8h-1zM701 222.0h1V240.0h-1zM704 230.2h1V245.6h-1zM713 213.0h1V225.7h-1zM716 221.7h1V236.0h-1zM737 162.0h1V194.3h-1zM740 190.3h1V221.0h-1zM743 212.1h1V222.6h-1zM752 165.0h1V188.0h-1zM761 152.0h1V177.7h-1zM764 172.7h1V187.6h-1zM766 175.2h1V186.8h-1zM772 177.0h1V188.2h-1zM778 185.1h1V198.0h-1zM781 189.5h1V202.6h-1zM796 165.0h1V180.4h-1zM799 176.4h1V186.0h-1zM805 170.0h1V187.6h-1zM808 181.6h1V184.6h-1zM811 180.1h1V192.4h-1zM841 129.3h1V140.2h-1zM858 86.0h1V107.0h-1zM861 95.0h1V121.0h-1zM864 115.1h1V125.0h-1zM870 102.0h1V121.0h-1zM885 86.0h1V102.8h-1zM888 99.0h1V114.0h-1zM894 102.0h1V114.2h-1zM900 103.0h1V116.5h-1zM903 112.5h1V147.0h-1zM906 136.0h1V155.0h-1zM909 143.0h1V163.0h-1zM912 152.2h1V169.5h-1zM918 156.0h1V170.2h-1zM921 166.2h1V185.7h-1zM924 183.0h1V208.6h-1zM936 182.8h1V190.6h-1zM939 183.6h1V191.7h-1zM950 162.0h1V179.9h-1zM968 111.6h1V127.4h-1zM974 116.1h1V132.1h-1zM983 118.8h1V127.4h-1zM992 113.0h1V130.1h-1zM995 115.0h1V148.0h-1zM1004 127.0h1V139.8h-1zM1007 133.0h1V153.0h-1zM1013 140.2h1V297.0h-1zM1016 198.7h1V238.0h-1zM1019 223.0h1V249.0h-1zM1034 166.0h1V209.0h-1zM1042 181.0h1V210.3h-1zM1048 196.0h1V229.0h-1zM1051 222.9h1V245.6h-1zM1054 225.4h1V241.6h-1zM1066 209.0h1V224.5h-1zM1072 207.0h1V212.4h-1zM1075 207.4h1V228.0h-1zM1081 216.2h1V229.2h-1zM1084 216.0h1V239.6h-1zM1093 207.9h1V216.8h-1zM1099 206.9h1V213.8h-1zM1111 180.0h1V195.4h-1zM1117 180.0h1V196.9h-1zM1120 185.0h1V210.0h-1zM1126 188.0h1V213.1h-1zM1132 206.7h1V236.0h-1zM1137 213.0h1V224.6h-1zM1140 217.6h1V227.8h-1zM1146 215.7h1V225.7h-1zM1152 210.8h1V253.0h-1zM1155 247.0h1V264.6h-1zM1158 261.6h1V286.0h-1zM1161 269.5h1V306.0h-1zM1170 269.5h1V280.3h-1zM1173 276.3h1V290.3h-1zM1176 286.3h1V297.0h-1zM1182 268.0h1V284.6h-1zM1197 255.0h1V268.0h-1zM1200 252.0h1V272.8h-1zM1203 267.8h1V282.1h-1zM1206 280.1h1V284.6h-1zM1212 278.5h1V297.0h-1zM1215 287.5h1V319.0h-1zM1218 278.0h1V323.5h-1zM1221 317.5h1V329.0h-1zM1229 314.0h1V328.3h-1zM1232 323.3h1V333.0h-1zM1238 315.0h1V344.0h-1zM1247 315.0h1V326.4h-1zM1256 315.0h1V337.1h-1zM1259 332.0h1V350.2h-1zM1262 342.0h1V359.0h-1zM1268 341.2h1V352.0h-1zM1271 339.0h1V354.5h-1zM1277 334.0h1V347.7h-1zM1289 320.0h1V332.7h-1zM1298 309.4h1V317.7h-1zM1304 314.0h1V329.0h-1zM1307 324.0h1V332.0h-1zM1310 325.7h1V331.0h-1zM1316 321.0h1V338.0h-1zM1318 335.0h1V353.1h-1zM1321 346.1h1V356.4h-1zM1336 306.0h1V315.8h-1zM1339 310.5h1V326.4h-1zM1342 320.0h1V327.3h-1zM1345 323.3h1V339.6h-1zM1348 327.2h1V339.2h-1zM1357 331.5h1V346.6h-1zM1363 323.0h1V338.6h-1zM1366 331.6h1V337.7h-1zM1372 321.0h1V331.1h-1zM1375 315.0h1V331.1h-1zM1378 327.4h1V344.6h-1zM15 289.5h3V296.6h-3zM18 296.6h3V301.4h-3zM21 301.4h3V302.7h-3zM32 298.3h3V305.2h-3zM38 300.6h3V305.4h-3zM41 305.4h3V311.5h-3zM50 298.6h3V299.6h-3zM56 295.6h3V302.2h-3zM59 302.2h3V303.2h-3zM62 303.2h3V306.5h-3zM68 306.0h3V311.3h-3zM74 308.5h3V314.8h-3zM80 311.0h3V313.5h-3zM86 304.5h3V310.2h-3zM98 248.6h3V254.7h-3zM101 254.7h3V255.7h-3zM107 237.4h3V251.3h-3zM116 245.6h3V247.8h-3zM124 226.3h3V229.9h-3zM127 229.9h3V240.6h-3zM130 240.6h3V253.3h-3zM133 253.3h3V257.3h-3zM139 250.2h3V262.4h-3zM145 258.7h3V263.8h-3zM154 252.0h3V266.0h-3zM157 266.0h3V267.6h-3zM175 235.4h3V239.2h-3zM181 233.8h3V248.7h-3zM187 244.2h3V247.8h-3zM190 247.8h3V249.8h-3zM199 237.9h3V245.9h-3zM208 241.2h3V245.7h-3zM211 245.7h3V250.7h-3zM213 250.7h3V252.4h-3zM216 252.4h3V259.7h-3zM219 259.7h3V273.3h-3zM222 273.3h3V288.6h-3zM225 288.6h3V291.3h-3zM231 285.8h3V292.6h-3zM246 274.0h3V284.7h-3zM249 284.7h3V285.7h-3zM252 285.5h3V292.1h-3zM255 292.1h3V293.1h-3zM258 293.0h3V305.1h-3zM261 305.1h3V306.1h-3zM264 305.7h3V308.6h-3zM270 299.6h3V303.0h-3zM285 280.2h3V281.2h-3zM294 269.6h3V272.3h-3zM297 272.3h3V281.7h-3zM300 281.7h3V293.8h-3zM303 293.8h3V307.5h-3zM311 303.6h3V305.2h-3zM314 305.2h3V306.3h-3zM323 291.2h3V293.2h-3zM326 293.2h3V303.1h-3zM332 301.4h3V309.2h-3zM335 309.2h3V312.6h-3zM341 305.4h3V314.0h-3zM347 303.2h3V319.4h-3zM350 319.4h3V320.4h-3zM353 319.5h3V333.4h-3zM359 332.0h3V342.2h-3zM374 307.7h3V310.7h-3zM377 310.7h3V314.2h-3zM383 310.3h3V324.5h-3zM389 313.1h3V317.3h-3zM403 291.4h3V297.9h-3zM409 288.4h3V301.7h-3zM415 301.1h3V303.7h-3zM421 290.0h3V292.8h-3zM424 292.8h3V293.8h-3zM427 293.2h3V301.3h-3zM430 301.3h3V304.7h-3zM436 299.6h3V310.2h-3zM448 293.4h3V301.4h-3zM457 291.3h3V292.8h-3zM469 271.1h3V274.8h-3zM478 270.8h3V278.3h-3zM484 272.2h3V279.9h-3zM489 263.8h3V273.4h-3zM492 273.4h3V278.8h-3zM507 240.8h3V244.1h-3zM513 235.1h3V241.6h-3zM519 238.7h3V242.8h-3zM525 229.9h3V233.6h-3zM540 182.6h3V192.6h-3zM543 192.6h3V208.3h-3zM546 208.3h3V221.2h-3zM549 221.2h3V224.1h-3zM552 224.1h3V231.7h-3zM564 218.2h3V220.5h-3zM573 213.5h3V227.5h-3zM576 227.5h3V233.0h-3zM581 230.9h3V236.8h-3zM584 236.8h3V238.7h-3zM590 237.5h3V249.9h-3zM593 249.9h3V255.3h-3zM596 255.3h3V275.3h-3zM602 268.0h3V279.4h-3zM608 273.8h3V275.1h-3zM620 254.4h3V269.4h-3zM653 229.0h3V236.6h-3zM656 236.6h3V243.6h-3zM659 243.6h3V248.8h-3zM673 182.3h3V210.4h-3zM679 200.4h3V226.9h-3zM691 207.7h3V214.0h-3zM694 214.0h3V228.7h-3zM697 228.7h3V230.8h-3zM700 230.8h3V232.2h-3zM703 232.2h3V242.6h-3zM712 222.6h3V223.7h-3zM715 223.7h3V235.0h-3zM736 175.0h3V190.3h-3zM739 190.3h3V214.1h-3zM742 214.1h3V216.1h-3zM751 183.5h3V185.0h-3zM760 156.7h3V175.7h-3zM763 175.7h3V176.7h-3zM765 176.2h3V185.8h-3zM771 181.8h3V187.2h-3zM777 186.1h3V192.5h-3zM780 192.5h3V197.1h-3zM795 167.4h3V179.4h-3zM798 179.4h3V184.0h-3zM804 172.9h3V182.6h-3zM807 182.6h3V183.6h-3zM810 183.1h3V192.2h-3zM840 134.3h3V137.2h-3zM857 91.5h3V102.0h-3zM860 102.0h3V117.1h-3zM863 117.1h3V118.1h-3zM869 110.0h3V115.4h-3zM884 86.5h3V99.8h-3zM887 99.8h3V109.8h-3zM893 107.5h3V111.2h-3zM899 105.8h3V115.5h-3zM902 115.5h3V138.9h-3zM905 138.9h3V145.0h-3zM908 145.0h3V153.2h-3zM911 153.2h3V165.5h-3zM917 163.3h3V167.2h-3zM920 167.2h3V184.7h-3zM923 184.7h3V206.6h-3zM935 183.8h3V185.6h-3zM938 185.6h3V190.7h-3zM949 168.4h3V176.9h-3zM967 111.6h3V126.4h-3zM973 121.1h3V131.1h-3zM982 122.8h3V126.4h-3zM991 116.9h3V126.1h-3zM994 126.1h3V142.7h-3zM1003 133.2h3V134.8h-3zM1006 134.8h3V148.1h-3zM1012 142.2h3V201.7h-3zM1015 201.7h3V223.7h-3zM1018 223.7h3V240.0h-3zM1033 171.8h3V199.4h-3zM1041 185.4h3V207.3h-3zM1047 196.7h3V224.9h-3zM1050 224.9h3V228.4h-3zM1053 228.4h3V232.0h-3zM1065 213.3h3V221.5h-3zM1071 209.4h3V210.4h-3zM1074 210.4h3V221.9h-3zM1080 220.2h3V225.2h-3zM1083 225.2h3V232.3h-3zM1092 210.9h3V212.8h-3zM1098 209.9h3V211.8h-3zM1110 189.7h3V193.4h-3zM1116 191.0h3V192.9h-3zM1119 192.9h3V201.2h-3zM1125 195.6h3V208.1h-3zM1131 207.7h3V229.2h-3zM1136 214.5h3V219.6h-3zM1139 219.6h3V225.8h-3zM1145 216.7h3V223.7h-3zM1151 213.8h3V249.0h-3zM1154 249.0h3V262.6h-3zM1157 262.6h3V272.5h-3zM1160 272.5h3V288.5h-3zM1169 272.5h3V279.3h-3zM1172 279.3h3V287.3h-3zM1175 287.3h3V294.9h-3zM1181 272.3h3V282.6h-3zM1196 263.5h3V266.0h-3zM1199 266.0h3V268.8h-3zM1202 268.8h3V281.1h-3zM1205 281.1h3V283.6h-3zM1211 283.5h3V291.5h-3zM1214 291.5h3V303.9h-3zM1217 303.9h3V320.5h-3zM1220 320.5h3V324.2h-3zM1228 321.8h3V325.3h-3zM1231 325.3h3V326.6h-3zM1237 321.0h3V337.1h-3zM1246 323.8h3V325.4h-3zM1255 317.0h3V334.1h-3zM1258 334.1h3V349.2h-3zM1261 349.2h3V350.2h-3zM1267 345.2h3V348.3h-3zM1270 348.3h3V349.5h-3zM1276 337.4h3V345.7h-3zM1288 325.8h3V331.7h-3zM1297 313.4h3V316.7h-3zM1303 314.4h3V326.0h-3zM1306 326.0h3V327.0h-3zM1309 326.7h3V329.8h-3zM1315 325.2h3V337.0h-3zM1317 337.0h3V348.1h-3zM1320 348.1h3V352.6h-3zM1335 311.8h3V312.8h-3zM1338 312.5h3V323.4h-3zM1341 323.4h3V326.3h-3zM1344 326.3h3V332.2h-3zM1347 332.2h3V338.2h-3zM1356 334.5h3V337.9h-3zM1362 325.8h3V334.6h-3zM1365 334.6h3V335.7h-3zM1371 326.1h3V328.1h-3zM1374 328.1h3V329.1h-3zM1377 328.4h3V339.7h-3z" fill="#f23645" shape-rendering="crispEdges"/>
</g>
<g clip-path="url(#cr)">
<rect x="11" y="468.5" width="1556" height="71" fill="#7e57c2" fill-opacity="0.1"/>
<line x1="11" y1="468.5" x2="1567" y2="468.5" stroke="#787b86" stroke-width="1" stroke-dasharray="4.5 6.5"/>
<line x1="11" y1="504.5" x2="1567" y2="504.5" stroke="#787b86" stroke-width="1" stroke-dasharray="4.5 6.5"/>
<line x1="11" y1="539.5" x2="1567" y2="539.5" stroke="#787b86" stroke-width="1" stroke-dasharray="4.5 6.5"/>
<polyline points="12.4,472.6 18.0,486.6 21.0,486.0 26.0,488.6 30.0,482.0 34.0,492.0 35.6,491.0 39.0,496.6 42.0,493.6 45.0,494.0 48.0,485.6 51.0,488.0 53.6,488.6 58.0,498.0 61.0,500.0 65.0,504.0 68.6,509.4 72.0,508.6 75.0,500.0 77.6,513.0 80.6,499.0 83.6,498.0 86.0,499.0 89.0,485.0 92.0,465.0 95.0,456.0 98.4,455.6 101.0,464.0 104.0,457.4 109.0,469.0 112.6,467.0 116.0,469.4 119.0,470.0 122.4,458.4 126.0,472.0 129.0,485.0 132.6,495.0 137.0,489.6 141.0,500.0 143.6,500.0 146.0,503.0 149.0,495.0 151.4,491.0 154.6,511.0 157.6,503.0 160.0,503.0 166.0,498.0 170.0,489.0 174.4,482.0 178.0,484.0 181.6,495.0 184.0,490.0 187.0,492.0 189.6,501.0 193.0,494.0 196.0,490.6 198.6,497.0 202.0,493.6 205.0,493.0 208.0,499.0 211.0,504.0 214.0,503.6 217.0,516.0 219.4,521.4 222.4,533.0 225.4,539.0 229.0,529.0 231.4,534.0 234.6,521.0 238.0,526.6 240.6,519.0 243.6,511.6 247.0,519.0 249.4,517.4 253.0,521.6 255.6,523.0 258.4,534.4 261.6,525.0 264.0,524.6 267.0,517.0 270.0,519.0 273.0,520.0 279.0,508.0 282.0,495.0 285.0,494.6 288.6,488.4 292.0,493.0 295.0,499.0 299.0,510.0 303.0,526.0 305.6,519.6 309.0,524.0 312.0,525.0 315.0,520.0 318.0,507.0 320.0,501.0 321.6,499.4 323.6,510.0 327.0,511.0 330.0,515.6 333.0,517.4 336.0,518.4 338.4,520.0 342.0,515.0 345.0,512.4 347.4,527.4 350.4,522.4 354.0,532.0 357.0,536.0 359.6,537.4 362.0,529.0 365.6,505.0 368.6,505.6 371.6,503.0 374.0,502.4 377.0,507.4 379.6,507.0 383.4,517.0 387.0,510.0 389.0,509.4 393.0,496.0 396.0,490.0 399.0,487.0 401.6,485.0 403.6,492.0 406.6,484.4 409.0,495.0 412.0,504.0 415.6,500.0 419.0,492.0 421.6,488.0 425.0,494.0 430.0,505.0 433.0,504.4 436.0,505.6 439.4,505.0 442.6,495.0 445.4,492.4 448.6,503.6 452.0,498.0 455.0,495.0 458.0,489.0 461.0,483.0 463.0,482.0 466.4,469.0 470.0,472.0 473.0,475.0 478.0,483.0 481.0,480.6 484.4,483.6 487.0,472.6 490.0,486.0 493.4,495.0 496.0,486.0 499.0,480.0 501.6,469.0 504.4,465.6 507.6,465.6 510.4,463.0 513.6,466.6 517.0,469.4 519.4,468.6 522.4,463.0 526.0,461.0 528.4,451.4 531.0,439.0 533.6,431.0 536.4,439.0 539.0,451.4 541.0,465.0 543.4,483.0 547.0,491.0 551.6,499.4 555.0,491.6 558.4,489.4 561.0,494.4 567.0,488.0 569.6,483.6 573.0,502.0 577.0,504.0 579.6,508.0 582.6,513.0 585.0,512.0 587.6,506.0 591.0,519.0 594.0,526.0 597.0,533.0 600.0,529.0 602.4,535.6 606.0,528.6 611.0,527.0 614.0,514.0 616.6,508.6 620.4,519.6 623.6,519.0 627.0,507.0 630.0,500.0 635.0,493.0 638.0,494.0 640.0,491.0 642.4,487.0 645.0,489.4 648.0,489.0 650.4,485.0 654.0,494.0 657.0,503.4 659.4,503.4 662.4,474.0 665.4,465.6 668.4,464.0 671.4,463.0 674.4,486.0 676.6,484.0 680.6,499.6 683.0,498.4 687.0,491.0 689.4,488.0 691.6,493.0 695.0,509.0 697.6,506.0 700.6,506.6 704.0,516.6 707.0,509.0 709.6,497.6 712.4,503.0 715.6,509.4 718.6,509.6 722.0,483.0 725.0,480.6 729.0,478.4 733.0,477.4 736.6,493.0 740.0,507.0 742.0,506.6 745.0,496.0 748.0,485.4 750.6,488.0 754.0,479.0 756.6,477.0 760.0,488.0 766.0,495.0 769.0,495.0 772.0,494.0 775.0,499.0 778.0,501.0 781.6,505.0 784.4,496.0 787.4,487.0 790.0,485.0 793.0,485.0 796.0,492.0 798.6,501.0 801.6,494.6 805.0,499.6 810.6,506.4 816.0,494.4 819.4,483.0 822.0,482.0 825.0,478.6 828.6,478.0 834.0,470.0 838.0,467.6 841.0,460.0 843.4,454.0 846.0,451.4 848.0,443.0 850.4,437.0 853.0,443.0 855.0,451.4 857.6,467.0 860.0,474.0 863.4,481.6 867.0,480.0 870.4,477.6 872.6,485.0 876.0,470.0 879.0,469.0 881.4,466.6 884.4,481.0 887.4,489.4 890.0,490.0 894.0,488.0 897.0,491.0 899.6,496.0 902.6,522.4 907.0,528.0 912.0,534.4 917.0,537.0 920.0,546.0 923.0,555.0 927.0,552.0 928.6,526.4 932.0,530.0 935.4,526.6 938.0,531.0 941.0,510.6 944.0,515.0 947.0,506.6 950.0,514.0 953.0,511.6 956.0,499.0 958.0,495.0 960.0,492.4 965.0,479.4 968.4,485.0 970.6,483.0 974.4,489.0 977.4,491.6 979.6,485.6 983.0,492.6 986.4,487.0 989.0,489.0 992.0,492.6 994.4,507.0 997.4,507.4 1001.0,495.6 1003.4,504.0 1007.0,507.4 1010.0,507.6 1012.0,539.0 1016.0,544.0 1019.0,547.0 1021.0,543.6 1024.4,519.4 1028.0,522.4 1030.0,505.4 1033.4,516.0 1035.6,509.4 1039.4,509.4 1042.6,516.6 1045.0,513.6 1048.6,522.4 1051.6,525.4 1054.0,524.6 1058.0,519.0 1062.6,516.0 1065.4,517.0 1068.4,511.0 1072.0,514.4 1075.6,518.0 1080.0,519.4 1084.0,525.4 1086.6,512.0 1090.0,506.4 1095.4,503.0 1098.6,504.0 1101.0,503.6 1105.0,495.0 1108.4,491.4 1111.0,492.4 1113.6,494.6 1116.6,493.4 1119.0,505.4 1122.0,496.6 1125.0,504.4 1128.0,510.6 1131.4,522.0 1134.0,513.0 1137.0,515.0 1140.6,517.6 1143.0,516.6 1146.0,517.0 1149.0,513.0 1151.4,531.0 1154.6,542.4 1158.0,547.0 1160.6,552.0 1164.0,545.0 1167.4,535.0 1170.0,539.0 1175.0,543.4 1178.4,526.0 1181.4,528.0 1184.0,530.0 1187.4,528.0 1190.0,519.0 1193.0,509.4 1196.0,510.6 1199.4,516.0 1202.4,528.6 1205.4,518.0 1208.0,526.0 1211.0,520.6 1214.0,531.0 1217.0,537.0 1221.0,539.0 1224.0,536.6 1229.0,536.0 1233.0,539.4 1235.0,528.0 1238.0,540.0 1240.0,526.6 1244.0,520.6 1249.4,525.0 1253.0,515.0 1258.0,535.0 1261.6,527.4 1265.0,529.0 1268.0,527.0 1272.0,522.4 1276.0,523.0 1279.4,506.0 1280.0,506.0 1282.6,509.0 1285.4,505.0 1289.0,508.0 1291.4,497.4 1295.0,499.0 1298.0,501.6 1300.6,501.6 1304.0,508.4 1306.6,508.6 1309.6,511.0 1312.0,510.0 1314.4,516.0 1319.0,528.0 1322.0,528.0 1324.0,523.0 1327.4,499.0 1330.0,494.0 1333.0,488.0 1337.0,493.0 1340.0,501.0 1345.0,512.0 1351.0,515.0 1356.0,515.0 1360.0,498.6 1363.0,510.0 1365.6,511.0 1369.0,499.4 1372.0,501.0 1374.6,503.0 1377.6,515.0 1380.0,502.4 1383.4,501.0" fill="none" stroke="#7e57c2" stroke-width="1.1" stroke-linejoin="round"/>
</g>
<g clip-path="url(#cd)">
<path d="M13 599.8h1V603.4h-1zM90 601.9h1V603.4h-1zM93 597.3h1V603.4h-1zM96 592.7h1V603.4h-1zM99 589.3h1V603.4h-1zM102 587.8h1V603.4h-1zM105 587.7h1V603.4h-1zM176 602.3h1V603.4h-1zM179 601.8h1V603.4h-1zM277 602.3h1V603.4h-1zM280 600.6h1V603.4h-1zM283 598.4h1V603.4h-1zM286 596.6h1V603.4h-1zM289 595.2h1V603.4h-1zM292 594.9h1V603.4h-1zM321 603.0h1V603.4h-1zM324 602.8h1V603.4h-1zM369 601.5h1V603.4h-1zM372 599.6h1V603.4h-1zM375 598.3h1V603.4h-1zM378 598.0h1V603.4h-1zM390 599.0h1V603.4h-1zM393 598.3h1V603.4h-1zM396 597.1h1V603.4h-1zM398 595.9h1V603.4h-1zM401 595.0h1V603.4h-1zM404 594.6h1V603.4h-1zM422 599.5h1V603.4h-1zM449 603.0h1V603.4h-1zM452 602.9h1V603.4h-1zM455 602.6h1V603.4h-1zM458 601.8h1V603.4h-1zM461 600.8h1V603.4h-1zM464 599.5h1V603.4h-1zM467 598.4h1V603.4h-1zM470 597.8h1V603.4h-1zM473 597.8h1V603.4h-1zM499 601.6h1V603.4h-1zM502 600.1h1V603.4h-1zM505 598.5h1V603.4h-1zM508 597.3h1V603.4h-1zM511 597.0h1V603.4h-1zM526 599.3h1V603.4h-1zM529 598.1h1V603.4h-1zM532 596.0h1V603.4h-1zM535 593.9h1V603.4h-1zM538 593.2h1V603.4h-1zM630 601.2h1V603.4h-1zM633 599.2h1V603.4h-1zM636 597.8h1V603.4h-1zM639 596.3h1V603.4h-1zM642 595.0h1V603.4h-1zM645 593.9h1V603.4h-1zM648 593.3h1V603.4h-1zM663 595.9h1V603.4h-1zM666 592.8h1V603.4h-1zM669 590.7h1V603.4h-1zM672 590.4h1V603.4h-1zM722 600.8h1V603.4h-1zM725 597.5h1V603.4h-1zM728 595.9h1V603.4h-1zM731 594.9h1V603.4h-1zM749 601.9h1V603.4h-1zM752 600.4h1V603.4h-1zM755 598.3h1V603.4h-1zM758 596.9h1V603.4h-1zM793 603.0h1V603.4h-1zM820 603.0h1V603.4h-1zM823 600.6h1V603.4h-1zM826 598.6h1V603.4h-1zM829 597.4h1V603.4h-1zM832 596.3h1V603.4h-1zM835 595.3h1V603.4h-1zM838 594.2h1V603.4h-1zM841 592.5h1V603.4h-1zM844 590.6h1V603.4h-1zM847 588.8h1V603.4h-1zM850 588.0h1V603.4h-1zM948 603.0h1V603.4h-1zM950 601.0h1V603.4h-1zM953 598.5h1V603.4h-1zM956 595.3h1V603.4h-1zM959 591.6h1V603.4h-1zM962 589.0h1V603.4h-1zM965 587.4h1V603.4h-1zM968 586.9h1V603.4h-1zM1066 602.5h1V603.4h-1zM1069 600.9h1V603.4h-1zM1072 600.1h1V603.4h-1zM1075 599.9h1V603.4h-1zM1087 600.5h1V603.4h-1zM1090 599.2h1V603.4h-1zM1093 597.9h1V603.4h-1zM1096 596.8h1V603.4h-1zM1099 595.9h1V603.4h-1zM1102 595.2h1V603.4h-1zM1105 594.4h1V603.4h-1zM1108 593.7h1V603.4h-1zM1111 593.5h1V603.4h-1zM1188 603.0h1V603.4h-1zM1191 600.7h1V603.4h-1zM1194 598.4h1V603.4h-1zM1197 596.7h1V603.4h-1zM1244 603.0h1V603.4h-1zM1247 601.3h1V603.4h-1zM1250 600.1h1V603.4h-1zM1253 599.7h1V603.4h-1zM1265 603.0h1V603.4h-1zM1268 602.9h1V603.4h-1zM1271 602.1h1V603.4h-1zM1274 601.1h1V603.4h-1zM1277 599.3h1V603.4h-1zM1280 597.4h1V603.4h-1zM1283 595.7h1V603.4h-1zM1286 594.9h1V603.4h-1zM1289 594.3h1V603.4h-1zM1292 593.8h1V603.4h-1zM1295 593.4h1V603.4h-1zM1330 601.4h1V603.4h-1zM1333 599.5h1V603.4h-1zM1336 598.2h1V603.4h-1zM1363 603.0h1V603.4h-1zM1366 602.8h1V603.4h-1zM1369 602.6h1V603.4h-1zM1372 602.5h1V603.4h-1zM1381 603.0h1V603.4h-1zM1384 602.9h1V603.4h-1z" fill="#26a69a" shape-rendering="crispEdges"/>
<path d="M16 600.3h1V603.4h-1zM19 601.4h1V603.4h-1zM22 602.5h1V603.4h-1zM25 603.0h1V603.4h-1zM108 588.8h1V603.4h-1zM111 590.6h1V603.4h-1zM114 592.8h1V603.4h-1zM117 594.7h1V603.4h-1zM120 595.9h1V603.4h-1zM122 596.9h1V603.4h-1zM125 598.5h1V603.4h-1zM128 601.8h1V603.4h-1zM182 601.9h1V603.4h-1zM185 602.5h1V603.4h-1zM188 603.0h1V603.4h-1zM295 595.6h1V603.4h-1zM298 597.5h1V603.4h-1zM301 599.7h1V603.4h-1zM304 602.3h1V603.4h-1zM327 603.0h1V603.4h-1zM381 598.3h1V603.4h-1zM384 598.9h1V603.4h-1zM387 599.2h1V603.4h-1zM407 595.3h1V603.4h-1zM410 596.6h1V603.4h-1zM413 598.3h1V603.4h-1zM416 599.3h1V603.4h-1zM419 599.5h1V603.4h-1zM425 599.8h1V603.4h-1zM428 601.0h1V603.4h-1zM431 602.4h1V603.4h-1zM476 598.4h1V603.4h-1zM479 599.2h1V603.4h-1zM482 599.9h1V603.4h-1zM485 600.2h1V603.4h-1zM488 600.7h1V603.4h-1zM490 601.3h1V603.4h-1zM493 602.2h1V603.4h-1zM496 602.4h1V603.4h-1zM514 597.4h1V603.4h-1zM517 598.1h1V603.4h-1zM520 598.8h1V603.4h-1zM523 599.5h1V603.4h-1zM541 594.9h1V603.4h-1zM544 598.6h1V603.4h-1zM547 602.9h1V603.4h-1zM651 594.0h1V603.4h-1zM654 595.6h1V603.4h-1zM657 597.8h1V603.4h-1zM660 597.8h1V603.4h-1zM674 591.7h1V603.4h-1zM677 594.7h1V603.4h-1zM680 598.0h1V603.4h-1zM683 600.9h1V603.4h-1zM686 602.6h1V603.4h-1zM734 595.2h1V603.4h-1zM737 596.6h1V603.4h-1zM740 599.7h1V603.4h-1zM743 601.8h1V603.4h-1zM746 602.7h1V603.4h-1zM761 597.1h1V603.4h-1zM764 599.0h1V603.4h-1zM766 601.2h1V603.4h-1zM853 588.6h1V603.4h-1zM856 590.2h1V603.4h-1zM858 593.1h1V603.4h-1zM861 596.9h1V603.4h-1zM864 600.8h1V603.4h-1zM971 587.4h1V603.4h-1zM974 588.5h1V603.4h-1zM977 590.0h1V603.4h-1zM980 591.4h1V603.4h-1zM983 592.7h1V603.4h-1zM986 593.8h1V603.4h-1zM989 595.2h1V603.4h-1zM992 597.8h1V603.4h-1zM995 601.0h1V603.4h-1zM1078 600.4h1V603.4h-1zM1081 601.0h1V603.4h-1zM1084 601.1h1V603.4h-1zM1114 593.7h1V603.4h-1zM1117 594.7h1V603.4h-1zM1120 595.7h1V603.4h-1zM1123 597.3h1V603.4h-1zM1126 599.3h1V603.4h-1zM1129 601.7h1V603.4h-1zM1200 596.8h1V603.4h-1zM1203 597.8h1V603.4h-1zM1206 599.0h1V603.4h-1zM1209 600.3h1V603.4h-1zM1212 602.0h1V603.4h-1zM1256 600.7h1V603.4h-1zM1259 602.2h1V603.4h-1zM1262 603.0h1V603.4h-1zM1298 593.6h1V603.4h-1zM1301 594.6h1V603.4h-1zM1304 596.0h1V603.4h-1zM1307 597.7h1V603.4h-1zM1310 599.2h1V603.4h-1zM1313 601.0h1V603.4h-1zM1316 602.9h1V603.4h-1zM1339 598.6h1V603.4h-1zM1342 599.8h1V603.4h-1zM1345 601.4h1V603.4h-1zM1348 602.7h1V603.4h-1zM1375 602.8h1V603.4h-1zM1378 603.0h1V603.4h-1z" fill="#b2dfdb" shape-rendering="crispEdges"/>
<path d="M28 603.4h1V604.1h-1zM30 603.4h1V604.9h-1zM33 603.4h1V605.7h-1zM36 603.4h1V606.4h-1zM39 603.4h1V607.3h-1zM42 603.4h1V608.0h-1zM45 603.4h1V608.2h-1zM57 603.4h1V607.4h-1zM60 603.4h1V607.7h-1zM63 603.4h1V607.9h-1zM66 603.4h1V608.0h-1zM69 603.4h1V608.2h-1zM72 603.4h1V608.4h-1zM75 603.4h1V608.6h-1zM131 603.4h1V605.4h-1zM134 603.4h1V608.5h-1zM137 603.4h1V610.4h-1zM140 603.4h1V611.8h-1zM143 603.4h1V612.5h-1zM155 603.4h1V611.4h-1zM191 603.4h1V603.8h-1zM194 603.4h1V604.0h-1zM197 603.4h1V604.1h-1zM206 603.4h1V603.9h-1zM209 603.4h1V604.5h-1zM212 603.4h1V605.7h-1zM214 603.4h1V607.1h-1zM217 603.4h1V609.2h-1zM220 603.4h1V611.7h-1zM223 603.4h1V614.0h-1zM226 603.4h1V615.5h-1zM229 603.4h1V615.8h-1zM256 603.4h1V607.7h-1zM259 603.4h1V608.1h-1zM306 603.4h1V604.5h-1zM309 603.4h1V606.3h-1zM312 603.4h1V607.1h-1zM330 603.4h1V603.8h-1zM333 603.4h1V603.9h-1zM336 603.4h1V604.1h-1zM339 603.4h1V604.2h-1zM345 603.4h1V604.4h-1zM348 603.4h1V605.2h-1zM351 603.4h1V606.6h-1zM354 603.4h1V607.9h-1zM357 603.4h1V608.8h-1zM434 603.4h1V603.8h-1zM437 603.4h1V604.5h-1zM440 603.4h1V604.6h-1zM550 603.4h1V606.6h-1zM553 603.4h1V609.0h-1zM556 603.4h1V610.0h-1zM559 603.4h1V610.1h-1zM562 603.4h1V610.1h-1zM574 603.4h1V609.3h-1zM577 603.4h1V610.1h-1zM580 603.4h1V610.8h-1zM582 603.4h1V611.6h-1zM585 603.4h1V612.2h-1zM588 603.4h1V613.3h-1zM591 603.4h1V614.7h-1zM594 603.4h1V616.2h-1zM597 603.4h1V617.4h-1zM600 603.4h1V618.0h-1zM689 603.4h1V604.0h-1zM692 603.4h1V605.8h-1zM695 603.4h1V607.9h-1zM698 603.4h1V609.7h-1zM701 603.4h1V611.3h-1zM704 603.4h1V611.9h-1zM769 603.4h1V603.8h-1zM772 603.4h1V605.3h-1zM775 603.4h1V606.8h-1zM778 603.4h1V607.9h-1zM781 603.4h1V608.2h-1zM796 603.4h1V603.8h-1zM799 603.4h1V604.1h-1zM802 603.4h1V604.9h-1zM805 603.4h1V605.7h-1zM808 603.4h1V606.6h-1zM811 603.4h1V607.2h-1zM867 603.4h1V604.1h-1zM870 603.4h1V606.0h-1zM873 603.4h1V606.4h-1zM882 603.4h1V604.8h-1zM885 603.4h1V606.0h-1zM888 603.4h1V607.9h-1zM891 603.4h1V609.4h-1zM894 603.4h1V610.5h-1zM897 603.4h1V611.2h-1zM900 603.4h1V612.9h-1zM903 603.4h1V615.0h-1zM906 603.4h1V617.8h-1zM909 603.4h1V620.2h-1zM912 603.4h1V621.9h-1zM915 603.4h1V622.6h-1zM918 603.4h1V623.2h-1zM921 603.4h1V624.3h-1zM924 603.4h1V625.4h-1zM998 603.4h1V603.8h-1zM1001 603.4h1V605.4h-1zM1004 603.4h1V606.2h-1zM1007 603.4h1V607.1h-1zM1010 603.4h1V611.2h-1zM1013 603.4h1V617.2h-1zM1016 603.4h1V624.4h-1zM1019 603.4h1V628.3h-1zM1022 603.4h1V628.5h-1zM1045 603.4h1V605.2h-1zM1048 603.4h1V606.5h-1zM1051 603.4h1V608.1h-1zM1054 603.4h1V608.6h-1zM1132 603.4h1V604.1h-1zM1134 603.4h1V605.9h-1zM1137 603.4h1V607.1h-1zM1140 603.4h1V607.4h-1zM1146 603.4h1V607.8h-1zM1149 603.4h1V608.8h-1zM1152 603.4h1V610.5h-1zM1155 603.4h1V612.5h-1zM1158 603.4h1V614.4h-1zM1161 603.4h1V615.7h-1zM1164 603.4h1V615.9h-1zM1215 603.4h1V604.6h-1zM1218 603.4h1V607.0h-1zM1221 603.4h1V608.5h-1zM1224 603.4h1V608.9h-1zM1318 603.4h1V604.6h-1zM1321 603.4h1V605.8h-1zM1351 603.4h1V603.8h-1zM1354 603.4h1V604.4h-1z" fill="#ff5252" shape-rendering="crispEdges"/>
<path d="M48 603.4h1V607.8h-1zM51 603.4h1V607.3h-1zM54 603.4h1V607.2h-1zM78 603.4h1V608.4h-1zM81 603.4h1V607.8h-1zM84 603.4h1V606.6h-1zM87 603.4h1V604.9h-1zM146 603.4h1V612.4h-1zM149 603.4h1V611.7h-1zM152 603.4h1V611.4h-1zM158 603.4h1V611.4h-1zM161 603.4h1V610.9h-1zM164 603.4h1V609.9h-1zM167 603.4h1V608.1h-1zM170 603.4h1V605.9h-1zM173 603.4h1V603.8h-1zM200 603.4h1V603.9h-1zM203 603.4h1V603.8h-1zM232 603.4h1V615.3h-1zM235 603.4h1V614.3h-1zM238 603.4h1V612.7h-1zM241 603.4h1V611.0h-1zM244 603.4h1V609.2h-1zM247 603.4h1V608.0h-1zM250 603.4h1V607.4h-1zM253 603.4h1V607.2h-1zM262 603.4h1V608.0h-1zM265 603.4h1V607.0h-1zM268 603.4h1V605.7h-1zM271 603.4h1V604.5h-1zM274 603.4h1V603.8h-1zM315 603.4h1V606.2h-1zM318 603.4h1V604.5h-1zM342 603.4h1V604.1h-1zM360 603.4h1V608.7h-1zM363 603.4h1V607.1h-1zM366 603.4h1V604.5h-1zM443 603.4h1V604.1h-1zM446 603.4h1V603.8h-1zM565 603.4h1V609.9h-1zM568 603.4h1V609.4h-1zM571 603.4h1V609.1h-1zM603 603.4h1V617.9h-1zM606 603.4h1V617.1h-1zM609 603.4h1V615.7h-1zM612 603.4h1V613.2h-1zM615 603.4h1V610.4h-1zM618 603.4h1V607.9h-1zM621 603.4h1V606.7h-1zM624 603.4h1V605.3h-1zM627 603.4h1V603.8h-1zM707 603.4h1V611.2h-1zM710 603.4h1V610.2h-1zM713 603.4h1V609.7h-1zM716 603.4h1V608.5h-1zM719 603.4h1V605.2h-1zM784 603.4h1V607.4h-1zM787 603.4h1V605.8h-1zM790 603.4h1V604.2h-1zM814 603.4h1V607.2h-1zM817 603.4h1V605.7h-1zM876 603.4h1V605.7h-1zM879 603.4h1V604.7h-1zM927 603.4h1V624.6h-1zM930 603.4h1V622.3h-1zM933 603.4h1V619.2h-1zM936 603.4h1V616.2h-1zM939 603.4h1V613.0h-1zM942 603.4h1V609.5h-1zM945 603.4h1V605.9h-1zM1025 603.4h1V625.8h-1zM1028 603.4h1V620.3h-1zM1031 603.4h1V615.5h-1zM1034 603.4h1V610.9h-1zM1037 603.4h1V607.8h-1zM1040 603.4h1V605.3h-1zM1042 603.4h1V604.3h-1zM1057 603.4h1V608.3h-1zM1060 603.4h1V606.8h-1zM1063 603.4h1V604.8h-1zM1143 603.4h1V607.4h-1zM1167 603.4h1V615.2h-1zM1170 603.4h1V614.3h-1zM1173 603.4h1V613.6h-1zM1176 603.4h1V612.4h-1zM1179 603.4h1V610.4h-1zM1182 603.4h1V608.0h-1zM1185 603.4h1V605.6h-1zM1226 603.4h1V608.6h-1zM1229 603.4h1V608.0h-1zM1232 603.4h1V607.0h-1zM1235 603.4h1V606.3h-1zM1238 603.4h1V605.5h-1zM1241 603.4h1V604.5h-1zM1324 603.4h1V605.4h-1zM1327 603.4h1V603.9h-1zM1357 603.4h1V604.4h-1zM1360 603.4h1V603.9h-1z" fill="#ffcdd2" shape-rendering="crispEdges"/>
<polyline points="12.0,569.0 13.0,569.1 14.5,569.2 16.2,569.5 18.0,570.0 19.4,570.6 21.0,571.3 22.6,572.1 24.2,573.0 26.0,574.0 27.6,574.9 29.3,575.9 31.0,576.9 32.7,578.0 34.4,579.0 36.0,580.0 37.7,581.2 39.3,582.5 40.9,583.7 42.4,584.8 44.0,585.6 45.6,586.1 47.2,586.3 48.8,586.5 50.4,586.6 52.0,587.0 53.6,587.6 55.2,588.4 56.8,589.3 58.4,590.2 60.0,591.0 61.6,591.8 63.2,592.6 64.7,593.4 66.3,594.2 68.0,595.0 69.5,595.8 71.1,596.6 72.7,597.5 74.3,598.4 75.7,599.1 77.0,599.6 79.0,600.1 80.5,600.2 82.0,600.0 83.7,599.8 85.4,599.4 87.0,598.6 89.1,596.9 91.0,594.0 92.9,588.7 95.0,583.0 96.6,580.0 98.2,577.4 100.0,575.0 101.4,573.3 102.9,571.6 104.5,570.1 106.0,569.0 107.5,568.3 109.0,567.8 110.5,567.6 112.0,567.4 113.5,567.4 115.0,567.5 116.5,567.6 118.0,567.4 119.5,566.7 121.1,565.7 122.6,564.8 124.0,564.4 126.1,565.1 128.0,567.0 129.9,569.8 132.0,573.0 133.4,574.5 134.9,576.0 136.5,577.5 138.0,579.0 139.5,580.6 141.0,582.2 142.5,583.8 144.0,585.0 145.5,585.7 147.0,586.1 148.5,586.4 150.0,587.0 151.5,588.1 153.0,589.4 154.5,590.8 156.0,592.0 157.5,593.0 159.0,593.8 160.5,594.5 162.0,595.0 163.5,595.2 165.0,595.3 166.5,595.1 168.0,594.6 169.5,593.7 171.1,592.4 172.6,591.0 174.0,590.0 175.7,589.2 177.2,588.8 179.0,588.6 180.6,588.6 182.4,588.8 184.3,589.1 186.0,589.4 187.5,589.8 188.9,590.2 190.4,590.7 192.0,591.0 193.5,591.2 195.2,591.3 196.8,591.4 198.5,591.5 200.0,591.6 201.6,591.7 203.1,591.7 204.5,591.7 206.0,592.0 207.5,592.5 209.0,593.1 210.5,594.0 212.0,595.0 213.5,596.2 215.0,597.5 216.5,599.1 218.0,601.0 219.5,603.5 220.9,606.4 222.4,609.3 224.0,612.0 225.7,614.3 227.4,616.5 229.2,618.4 231.0,620.0 232.8,621.2 234.6,622.1 236.3,622.7 238.0,623.0 239.6,622.9 241.1,622.5 242.5,621.9 244.0,621.6 245.5,621.6 247.1,621.7 248.6,621.8 250.0,622.0 251.8,622.2 253.4,622.5 255.0,623.0 257.0,624.5 259.0,626.0 260.6,626.6 262.2,627.0 264.0,627.0 265.4,626.7 266.9,626.2 268.4,625.6 270.0,625.0 271.7,624.6 273.6,624.2 275.4,623.8 277.0,623.0 278.8,621.4 280.3,619.3 282.0,617.0 283.5,615.0 285.1,612.9 286.6,610.8 288.0,609.0 290.1,606.5 292.0,605.0 293.6,604.4 295.3,604.2 297.0,604.4 298.6,605.2 300.2,606.5 302.0,608.0 303.7,609.4 305.5,611.0 307.3,612.6 309.0,614.0 310.9,615.6 312.5,616.9 314.0,617.4 316.2,616.0 318.0,614.0 320.0,613.0 321.2,612.8 322.8,612.5 324.4,612.4 326.0,612.4 327.5,612.7 328.9,613.1 330.4,613.6 332.0,614.0 333.7,614.3 335.5,614.6 337.3,614.8 339.0,615.0 340.6,615.0 342.1,614.9 343.6,614.8 345.0,615.0 346.7,615.7 348.3,616.7 350.0,618.0 351.4,619.1 353.0,620.5 354.5,621.8 356.0,623.0 357.9,624.5 359.7,625.9 361.4,626.4 363.0,625.5 364.5,623.8 366.0,622.0 367.6,620.3 369.2,618.6 371.0,617.0 372.6,615.8 374.4,614.7 376.3,613.7 378.0,613.0 379.6,612.8 381.1,612.9 382.5,613.0 384.0,613.0 385.5,612.7 387.0,612.3 388.5,611.8 390.0,611.0 391.5,610.0 393.0,608.8 394.5,607.4 396.0,606.0 397.5,604.5 399.1,602.9 400.6,601.3 402.0,600.0 403.7,598.6 405.4,597.6 407.0,597.0 408.7,597.1 410.3,597.6 412.0,598.0 413.7,598.2 415.3,598.2 417.0,598.0 418.7,597.3 420.3,596.3 422.0,595.6 423.7,595.3 425.3,595.3 427.0,595.6 428.6,596.2 430.1,597.1 432.0,598.0 433.4,598.5 435.1,599.0 436.8,599.4 438.5,599.8 440.0,600.0 441.6,599.9 443.1,599.6 444.5,599.2 446.0,599.0 447.5,599.0 449.0,599.0 450.5,599.1 452.0,599.0 453.5,598.8 455.0,598.6 456.5,598.2 458.0,597.6 459.5,596.7 461.0,595.5 462.5,594.2 464.0,593.0 465.5,591.8 467.0,590.5 468.5,589.3 470.0,588.4 471.5,587.8 473.0,587.4 474.5,587.2 476.0,587.0 477.5,586.9 479.1,587.0 480.6,587.0 482.0,587.0 483.7,586.7 485.4,586.2 487.0,586.0 488.6,586.2 490.3,586.6 492.0,587.0 493.4,587.4 494.9,587.9 496.5,588.2 498.0,588.0 499.5,587.1 500.9,585.6 502.4,583.9 504.0,582.4 505.7,580.9 507.4,579.4 509.2,578.1 511.0,577.0 512.7,576.4 514.4,576.1 516.2,575.9 518.0,575.6 519.6,575.4 521.2,575.3 522.9,575.1 524.5,574.7 526.0,574.0 527.7,572.4 529.2,570.3 530.6,568.1 532.0,566.0 533.8,563.5 535.6,561.1 537.0,559.0 539.4,555.0 542.0,559.0 543.5,560.8 545.2,562.8 547.0,565.0 548.6,567.7 550.3,570.6 552.0,573.0 553.4,574.3 554.9,575.3 556.5,576.1 558.0,577.0 559.5,577.9 561.0,578.8 562.5,579.7 564.0,580.4 565.5,580.8 567.0,581.1 568.5,581.4 570.0,582.0 571.5,583.0 573.0,584.2 574.5,585.6 576.0,587.0 577.5,588.4 579.0,589.9 580.5,591.5 582.0,593.0 583.5,594.4 585.0,595.8 586.5,597.3 588.0,599.0 589.5,601.0 591.0,603.3 592.5,605.7 594.0,608.0 595.5,610.3 597.1,612.8 598.6,615.0 600.0,617.0 601.7,619.0 603.3,620.6 605.0,622.0 606.4,623.2 607.9,624.4 609.5,625.3 611.0,625.6 612.5,625.0 613.9,623.8 615.4,622.5 617.0,621.6 618.7,621.4 620.5,621.7 622.3,621.9 624.0,621.6 625.6,620.6 627.1,619.2 628.5,617.6 630.0,616.0 631.5,614.3 633.1,612.4 634.6,610.5 636.0,609.0 638.1,607.2 640.0,605.6 641.6,603.9 643.2,601.9 645.0,600.0 646.4,598.7 647.8,597.3 649.3,596.2 651.0,595.6 652.5,595.8 654.2,596.6 655.9,597.5 657.6,598.1 659.0,598.0 660.8,596.0 662.3,592.7 664.0,589.0 665.6,585.8 667.4,582.2 669.3,578.8 671.0,576.4 672.6,575.3 674.1,575.1 675.5,575.4 677.0,576.0 678.5,577.1 679.9,578.6 681.4,580.3 683.0,581.6 684.7,582.3 686.5,582.5 688.3,582.9 690.0,583.6 691.5,584.8 692.9,586.3 694.3,588.0 696.0,590.0 697.4,591.6 698.9,593.5 700.6,595.4 702.2,597.3 703.7,598.9 705.0,600.0 706.9,600.4 708.3,599.7 710.0,599.4 711.7,600.4 713.5,602.0 715.3,603.3 717.0,603.4 718.8,600.9 720.3,596.7 722.0,593.0 723.4,591.0 724.9,589.2 726.5,587.5 728.0,586.0 729.5,584.5 731.1,583.0 732.6,581.8 734.0,581.0 736.1,581.0 738.0,582.4 739.6,584.7 741.3,587.6 743.0,589.4 744.7,589.1 746.4,587.8 748.0,586.6 750.0,586.1 752.0,585.0 753.6,582.5 755.3,579.3 757.0,577.0 758.6,576.3 760.3,576.4 762.0,577.0 763.4,577.7 764.9,578.7 766.4,579.8 768.0,581.0 769.7,582.2 771.4,583.4 773.2,584.7 775.0,586.0 776.6,587.1 778.2,588.4 779.9,589.6 781.5,590.6 783.0,591.0 784.6,590.6 786.1,589.4 787.5,588.0 789.0,587.0 790.5,586.4 792.0,586.1 793.5,585.9 795.0,586.0 796.5,586.5 798.1,587.3 799.6,588.2 801.0,589.0 802.7,589.7 804.3,590.2 806.0,591.0 807.5,592.0 809.0,593.1 810.5,594.2 812.0,595.0 813.7,595.6 815.2,595.7 817.0,595.0 818.6,593.7 820.3,591.9 822.1,589.8 824.0,588.0 825.5,586.8 827.1,585.7 828.8,584.7 830.4,583.6 832.0,582.4 833.6,581.1 835.3,579.7 836.9,578.2 838.5,576.7 840.0,575.0 841.7,572.6 843.2,569.9 844.7,567.2 846.0,565.0 848.2,562.1 850.0,560.0 851.5,558.3 853.0,557.0 854.9,556.0 857.0,555.6 859.0,556.4 861.0,558.0 862.8,560.2 865.0,563.0 866.6,564.7 868.4,566.7 870.2,568.4 872.0,569.4 873.6,569.4 875.1,568.6 876.6,567.7 878.0,567.0 879.7,566.5 881.4,566.2 883.0,566.6 884.6,568.0 886.3,570.1 888.0,572.0 889.4,573.2 890.9,574.2 892.5,575.3 894.0,576.4 895.5,577.5 897.0,578.5 898.5,579.8 900.0,581.6 901.5,584.2 903.0,587.2 904.5,590.6 906.0,594.0 907.5,597.5 909.0,601.1 910.5,604.7 912.0,608.0 913.5,610.7 915.1,613.1 916.6,615.4 918.0,618.0 919.8,622.3 921.4,627.0 923.0,631.0 924.9,635.2 927.0,638.0 928.4,638.7 929.9,638.9 931.5,639.0 933.0,639.0 934.7,639.3 936.3,639.5 938.0,639.0 939.5,637.9 941.0,636.3 942.5,634.6 944.0,633.0 945.8,631.1 947.4,629.4 949.0,628.0 951.1,627.2 953.0,626.0 955.1,622.3 957.0,618.0 958.5,614.6 960.0,611.0 961.8,606.6 964.0,602.0 965.4,599.6 966.9,597.2 968.5,594.9 970.0,593.0 971.5,591.6 973.0,590.6 974.5,589.7 976.0,589.0 977.5,588.4 979.0,587.9 980.5,587.5 982.0,587.0 983.5,586.3 985.1,585.6 986.6,585.0 988.0,584.6 990.1,584.5 992.0,585.6 993.6,587.5 995.3,590.1 997.0,592.0 998.6,592.6 1000.1,592.6 1002.0,593.0 1003.5,593.6 1005.2,594.2 1007.0,595.0 1008.7,596.2 1010.0,598.0 1011.8,605.4 1013.0,614.0 1014.9,621.2 1017.0,628.0 1018.8,635.0 1021.0,640.4 1022.7,641.5 1024.6,641.8 1026.5,641.5 1028.0,641.0 1030.0,636.4 1031.8,636.2 1034.0,636.0 1035.6,634.4 1037.2,632.2 1039.0,630.6 1040.5,630.2 1042.0,630.2 1043.5,630.4 1045.0,631.0 1046.7,632.4 1048.4,634.3 1050.0,636.0 1051.7,637.4 1053.3,638.6 1055.0,639.4 1056.6,639.7 1058.3,639.6 1060.0,639.0 1061.4,638.1 1062.9,636.7 1064.5,635.3 1066.0,634.0 1067.5,632.9 1068.9,631.8 1070.4,630.8 1072.0,630.0 1073.7,629.5 1075.5,629.2 1077.3,629.1 1079.0,629.0 1080.6,629.1 1082.1,629.5 1083.5,629.7 1085.0,629.4 1086.5,628.5 1087.9,627.1 1089.4,625.6 1091.0,624.0 1092.7,622.4 1094.5,620.7 1096.3,619.0 1098.0,617.4 1099.6,616.0 1101.1,614.7 1102.5,613.4 1104.0,612.0 1105.5,610.3 1107.0,608.4 1108.5,606.5 1110.0,605.0 1111.5,603.8 1113.0,602.9 1114.5,602.2 1116.0,601.6 1117.5,601.1 1119.0,600.6 1120.5,600.4 1122.0,600.4 1123.5,600.7 1125.0,601.3 1126.5,602.1 1128.0,603.0 1129.5,604.1 1131.0,605.5 1132.5,606.8 1134.0,608.0 1135.5,608.9 1136.9,609.7 1138.4,610.4 1140.0,611.0 1141.5,611.4 1143.2,611.6 1144.8,611.8 1146.5,612.2 1148.0,613.0 1149.6,614.5 1151.1,616.4 1152.5,618.6 1154.0,621.0 1155.5,623.8 1157.1,627.1 1158.6,630.3 1160.0,633.0 1161.8,635.9 1163.4,638.1 1165.0,640.0 1166.9,641.7 1169.0,643.0 1170.5,644.1 1172.2,645.4 1174.1,646.5 1176.0,647.0 1177.6,646.7 1179.2,646.0 1180.9,645.1 1182.5,644.0 1184.0,643.0 1185.7,641.9 1187.2,640.7 1188.6,639.4 1190.0,638.0 1191.7,635.7 1193.4,633.1 1195.0,631.0 1196.7,629.7 1198.3,628.8 1200.0,628.4 1201.7,628.5 1203.3,629.0 1205.0,629.4 1206.7,629.2 1208.4,628.9 1210.0,629.0 1212.0,630.6 1214.0,633.0 1215.6,634.9 1217.2,637.1 1219.0,639.0 1220.4,640.1 1221.9,641.0 1223.4,641.8 1225.0,642.4 1226.8,642.8 1228.6,643.0 1230.4,643.0 1232.0,643.0 1234.2,642.7 1236.0,642.4 1237.9,642.9 1240.0,643.0 1241.4,642.3 1242.9,641.3 1244.5,640.1 1246.0,639.0 1247.5,637.9 1249.1,636.7 1250.6,635.7 1252.0,635.0 1254.1,634.9 1256.0,635.6 1257.9,637.1 1260.0,638.6 1261.4,638.9 1262.9,639.1 1264.5,639.1 1266.0,639.0 1267.5,638.7 1269.1,638.2 1270.6,637.6 1272.0,637.0 1274.1,636.0 1276.0,634.6 1278.0,632.0 1280.0,629.0 1281.9,626.4 1284.0,624.0 1285.6,622.7 1287.3,621.4 1289.0,620.0 1290.6,618.1 1292.3,615.9 1294.0,614.0 1295.4,612.8 1296.9,611.7 1298.5,610.7 1300.0,610.0 1301.5,609.6 1303.0,609.4 1304.5,609.4 1306.0,609.4 1307.5,609.4 1309.0,609.4 1310.5,609.6 1312.0,610.0 1313.5,610.7 1315.0,611.7 1316.5,612.7 1318.0,613.6 1319.5,614.5 1321.1,615.4 1322.6,616.2 1324.0,616.4 1325.7,615.9 1327.4,614.6 1329.0,613.0 1330.7,610.8 1332.3,608.1 1334.0,606.0 1335.7,604.7 1337.3,603.9 1339.0,603.6 1340.7,603.8 1342.3,604.3 1344.0,605.0 1345.6,605.6 1347.2,606.3 1349.0,607.0 1350.6,607.6 1352.4,608.2 1354.3,608.7 1356.0,609.0 1357.6,608.9 1359.1,608.5 1360.5,608.0 1362.0,607.6 1363.5,607.3 1365.0,607.1 1366.5,606.8 1368.0,606.6 1369.5,606.3 1371.1,606.0 1372.6,605.7 1374.0,605.6 1376.0,606.0 1378.0,606.4 1379.9,606.2 1381.9,605.7 1383.4,605.4" fill="none" stroke="#2196f3" stroke-width="1.2" stroke-linejoin="round"/>
<polyline points="12.0,573.0 13.1,572.8 14.5,572.5 16.3,572.2 18.1,572.0 20.0,572.0 21.6,572.3 23.2,572.7 24.9,573.2 26.6,573.8 28.3,574.4 30.0,575.0 31.7,575.6 33.3,576.3 35.0,576.9 36.7,577.6 38.3,578.3 40.0,579.0 41.7,579.7 43.3,580.3 45.0,581.0 46.7,581.7 48.3,582.3 50.0,583.0 51.7,583.7 53.3,584.3 55.0,585.0 56.7,585.6 58.3,586.3 60.0,587.0 61.7,587.7 63.3,588.5 65.0,589.3 66.7,590.1 68.3,590.9 70.0,591.6 71.7,592.3 73.4,593.1 75.2,593.8 76.9,594.5 78.5,595.1 80.0,595.6 82.0,596.2 83.7,596.7 85.3,597.0 87.0,597.0 88.7,596.6 90.4,596.0 92.2,595.1 94.0,594.0 95.5,593.0 97.1,591.9 98.8,590.7 100.4,589.4 102.0,588.0 103.6,586.5 105.2,584.8 106.8,583.2 108.4,581.5 110.0,580.0 111.6,578.6 113.2,577.4 114.8,576.2 116.4,575.0 118.0,574.0 119.6,573.0 121.3,572.1 122.9,571.3 124.5,570.6 126.0,570.0 127.6,569.5 129.1,569.3 130.5,569.2 132.0,569.4 133.5,569.8 134.9,570.3 136.4,571.1 138.0,572.0 139.5,572.8 141.1,573.8 142.7,574.8 144.4,575.9 146.0,577.0 147.6,578.2 149.2,579.4 150.8,580.6 152.4,581.8 154.0,583.0 155.6,584.1 157.2,585.2 158.8,586.2 160.4,587.1 162.0,588.0 163.6,588.8 165.2,589.5 166.8,590.1 168.4,590.6 170.0,591.0 171.6,591.1 173.2,591.1 174.8,590.9 176.4,590.7 178.0,590.6 179.6,590.5 181.2,590.3 182.8,590.2 184.4,590.1 186.0,590.0 187.6,590.0 189.2,590.1 190.8,590.1 192.4,590.3 194.0,590.4 195.6,590.6 197.2,590.8 198.8,591.0 200.4,591.2 202.0,591.4 203.6,591.6 205.3,591.8 206.9,591.9 208.5,592.1 210.0,592.4 211.6,592.8 213.1,593.2 214.5,593.7 216.0,594.4 217.5,595.3 219.0,596.4 220.5,597.7 222.0,599.0 223.5,600.4 225.0,601.9 226.5,603.5 228.0,605.0 229.5,606.5 231.0,608.1 232.5,609.6 234.0,611.0 235.5,612.2 236.9,613.2 238.4,614.1 240.0,615.0 241.5,615.7 243.1,616.3 244.7,616.9 246.4,617.5 248.0,618.0 249.6,618.4 251.2,618.8 252.8,619.2 254.4,619.6 256.0,620.0 257.6,620.6 259.3,621.2 260.9,621.9 262.5,622.5 264.0,623.0 265.6,623.4 267.0,623.7 268.4,623.9 270.0,624.0 271.5,624.0 273.2,624.0 274.8,623.9 276.5,623.7 278.0,623.4 279.6,622.8 281.1,622.0 282.5,621.0 284.0,620.0 285.5,618.8 287.0,617.5 288.5,616.2 290.0,615.0 291.5,613.9 293.0,612.8 294.5,611.8 296.0,611.0 297.5,610.5 299.0,610.2 300.5,610.0 302.0,610.0 303.5,610.1 305.0,610.3 306.5,610.7 308.0,611.0 309.5,611.4 311.1,611.8 312.6,612.2 314.0,612.6 315.9,613.0 317.7,613.4 319.0,613.6 320.0,613.6 321.2,613.5 322.7,613.3 324.5,613.2 326.3,613.0 328.0,613.0 329.6,613.1 331.2,613.3 332.8,613.6 334.4,613.8 336.0,614.0 337.6,614.1 339.2,614.1 340.8,614.2 342.4,614.3 344.0,614.4 345.6,614.6 347.2,614.8 348.8,615.1 350.4,615.5 352.0,616.0 353.6,616.7 355.3,617.5 356.9,618.5 358.5,619.3 360.0,620.0 361.6,620.6 363.1,621.1 364.5,621.5 366.0,621.6 367.5,621.5 368.9,621.3 370.4,620.9 372.0,620.4 373.5,620.0 375.1,619.5 376.7,619.0 378.4,618.5 380.0,618.0 381.6,617.5 383.2,617.1 384.8,616.6 386.4,616.2 388.0,615.6 389.6,615.0 391.2,614.3 392.8,613.6 394.4,612.8 396.0,612.0 397.6,611.1 399.2,610.1 400.8,609.0 402.4,608.0 404.0,607.0 405.6,606.1 407.2,605.3 408.8,604.5 410.4,603.7 412.0,603.0 413.6,602.3 415.2,601.7 416.8,601.0 418.4,600.5 420.0,600.0 421.6,599.6 423.2,599.3 424.8,599.0 426.4,598.8 428.0,598.6 429.6,598.4 431.2,598.2 432.8,598.1 434.4,598.0 436.0,598.0 437.6,598.1 439.2,598.3 440.8,598.6 442.4,598.8 444.0,599.0 445.6,599.1 447.2,599.3 448.8,599.4 450.4,599.4 452.0,599.4 453.6,599.3 455.2,599.2 456.8,599.0 458.4,598.8 460.0,598.4 461.6,597.9 463.2,597.2 464.8,596.5 466.4,595.7 468.0,595.0 469.6,594.3 471.2,593.6 472.8,592.9 474.4,592.2 476.0,591.6 477.6,591.1 479.2,590.6 480.8,590.1 482.4,589.7 484.0,589.4 485.6,589.1 487.2,588.9 488.8,588.7 490.4,588.5 492.0,588.4 493.6,588.3 495.2,588.3 496.8,588.3 498.4,588.2 500.0,588.0 501.6,587.6 503.2,587.0 504.8,586.4 506.4,585.7 508.0,585.0 509.6,584.2 511.2,583.4 512.8,582.6 514.4,581.8 516.0,581.0 517.6,580.4 519.2,579.8 520.8,579.3 522.4,578.7 524.0,578.0 525.6,577.2 527.2,576.2 528.8,575.2 530.4,574.1 532.0,573.0 533.6,571.7 535.3,570.2 536.9,568.7 538.5,567.4 540.0,566.4 541.6,565.6 543.1,565.2 544.5,565.0 546.0,565.0 547.5,565.2 548.9,565.6 550.4,566.2 552.0,567.0 553.5,567.8 555.1,568.8 556.7,569.9 558.4,571.0 560.0,572.0 561.6,572.8 563.2,573.6 564.8,574.4 566.4,575.2 568.0,576.0 569.6,576.9 571.2,577.9 572.8,578.9 574.4,579.9 576.0,581.0 577.6,582.1 579.2,583.3 580.8,584.5 582.4,585.7 584.0,587.0 585.6,588.3 587.2,589.6 588.8,591.0 590.4,592.5 592.0,594.0 593.6,595.7 595.2,597.5 596.8,599.3 598.4,601.2 600.0,603.0 601.6,604.9 603.2,606.8 604.9,608.7 606.5,610.5 608.0,612.0 609.8,613.6 611.6,614.9 613.3,616.1 615.0,617.0 616.8,617.8 618.6,618.3 620.3,618.7 622.0,619.0 623.6,619.2 625.1,619.3 626.5,619.3 628.0,619.0 629.5,618.5 631.1,617.7 632.6,616.8 634.0,616.0 635.9,614.8 637.7,613.5 639.0,612.6 640.0,613.0 641.2,612.2 642.7,611.0 644.5,609.6 646.3,608.2 648.0,607.0 649.6,606.0 651.2,605.0 652.8,604.2 654.4,603.3 656.0,602.4 657.6,601.6 659.2,600.8 660.8,600.1 662.4,599.2 664.0,598.0 665.6,596.4 667.3,594.5 668.9,592.5 670.5,590.6 672.0,589.0 673.6,587.5 675.0,586.2 676.4,585.2 678.0,584.4 679.5,583.9 681.1,583.5 682.7,583.2 684.4,583.1 686.0,583.0 687.6,583.0 689.2,583.0 690.8,583.2 692.4,583.5 694.0,584.0 695.6,584.7 697.2,585.7 698.8,586.8 700.4,587.9 702.0,589.0 703.6,590.0 705.2,591.1 706.8,592.1 708.4,593.1 710.0,594.0 711.6,594.9 713.3,595.7 714.9,596.5 716.5,597.1 718.0,597.4 719.6,597.4 721.1,597.2 722.5,596.6 724.0,596.0 725.5,595.2 727.0,594.1 728.5,593.0 730.0,592.0 731.5,591.0 732.9,589.9 734.4,589.0 736.0,588.4 737.5,588.3 739.1,588.5 740.7,588.7 742.4,589.0 744.0,589.0 745.6,588.8 747.2,588.5 748.8,588.1 750.4,587.6 752.0,587.0 753.6,586.3 755.2,585.4 756.8,584.5 758.4,583.7 760.0,583.0 761.6,582.5 763.2,582.1 764.8,581.8 766.4,581.7 768.0,581.6 769.6,581.7 771.2,581.9 772.8,582.2 774.4,582.6 776.0,583.0 777.6,583.5 779.2,584.2 780.8,584.9 782.4,585.5 784.0,586.0 785.6,586.2 787.2,586.3 788.8,586.3 790.4,586.3 792.0,586.4 793.6,586.5 795.2,586.7 796.8,586.9 798.4,587.1 800.0,587.4 801.6,587.7 803.2,588.1 804.8,588.5 806.4,588.9 808.0,589.4 809.6,589.9 811.3,590.5 812.9,591.1 814.5,591.6 816.0,592.0 817.6,592.3 819.0,592.5 820.4,592.5 822.0,592.4 823.5,592.1 825.1,591.7 826.7,591.2 828.4,590.7 830.0,590.0 831.6,589.3 833.2,588.5 834.8,587.6 836.4,586.7 838.0,585.6 839.6,584.5 841.2,583.2 842.8,581.9 844.4,580.5 846.0,579.0 847.6,577.3 849.3,575.4 850.9,573.4 852.5,571.6 854.0,570.0 855.6,568.4 857.1,567.0 858.5,565.9 860.0,565.0 861.5,564.4 862.9,564.1 864.4,564.0 866.0,564.0 867.5,564.2 869.1,564.5 870.7,564.9 872.4,565.3 874.0,565.6 875.6,565.7 877.2,565.8 878.8,565.8 880.4,565.8 882.0,566.0 883.6,566.3 885.2,566.6 886.8,567.0 888.4,567.4 890.0,568.0 891.6,568.6 893.3,569.4 894.9,570.2 896.5,571.1 898.0,572.0 899.6,573.1 901.0,574.3 902.4,575.7 904.0,577.6 905.5,579.6 907.1,582.0 908.7,584.6 910.4,587.3 912.0,590.0 913.6,592.7 915.3,595.6 916.9,598.5 918.5,601.3 920.0,604.0 921.6,607.2 923.1,610.4 924.5,613.3 926.0,616.0 927.5,618.4 929.0,620.4 930.5,622.3 932.0,624.0 933.5,625.5 935.0,626.9 936.5,628.1 938.0,629.0 939.5,629.6 941.0,630.0 942.5,630.3 944.0,630.4 945.5,630.5 947.0,630.5 948.5,630.3 950.0,630.0 951.5,629.5 953.1,628.9 954.6,628.2 956.0,627.4 958.0,625.6 960.0,623.0 961.3,621.1 962.8,618.9 964.3,616.4 966.0,614.0 967.5,612.0 969.1,609.9 970.7,607.8 972.4,605.8 974.0,604.0 975.6,602.4 977.2,600.9 978.8,599.5 980.4,598.2 982.0,597.0 983.6,595.8 985.2,594.7 986.9,593.6 988.5,592.7 990.0,592.0 991.8,591.4 993.6,591.2 995.3,591.1 997.0,591.0 998.8,590.9 1000.6,591.0 1002.3,591.1 1004.0,591.4 1005.6,591.7 1007.1,592.1 1008.5,592.8 1010.0,594.0 1011.5,595.9 1013.0,598.4 1014.5,601.2 1016.0,604.0 1017.5,606.9 1019.0,610.1 1020.5,613.2 1022.0,616.0 1023.5,618.6 1024.9,621.0 1026.4,623.1 1028.0,625.0 1029.7,626.5 1031.4,627.7 1033.2,628.7 1035.0,629.4 1036.8,629.8 1038.6,629.9 1040.3,629.9 1042.0,630.0 1043.5,630.2 1044.9,630.3 1046.4,630.6 1048.0,631.0 1049.5,631.6 1051.1,632.3 1052.7,633.1 1054.4,633.8 1056.0,634.4 1057.6,634.8 1059.2,635.1 1060.8,635.3 1062.4,635.4 1064.0,635.4 1065.6,635.2 1067.2,634.9 1068.8,634.5 1070.4,634.0 1072.0,633.6 1073.6,633.2 1075.2,632.8 1076.8,632.4 1078.4,632.0 1080.0,631.6 1081.6,631.3 1083.2,631.1 1084.8,630.8 1086.4,630.5 1088.0,630.0 1089.6,629.3 1091.2,628.5 1092.8,627.6 1094.4,626.6 1096.0,625.6 1097.6,624.6 1099.2,623.5 1100.8,622.4 1102.4,621.2 1104.0,620.0 1105.6,618.7 1107.2,617.2 1108.8,615.8 1110.4,614.3 1112.0,613.0 1113.6,611.8 1115.2,610.6 1116.8,609.5 1118.4,608.5 1120.0,607.6 1121.6,606.8 1123.2,606.2 1124.8,605.7 1126.4,605.3 1128.0,605.0 1129.6,604.9 1131.2,604.9 1132.8,605.0 1134.4,605.3 1136.0,605.6 1137.6,606.0 1139.3,606.6 1140.9,607.3 1142.5,607.9 1144.0,608.4 1145.6,608.8 1147.1,609.0 1148.5,609.3 1150.0,610.0 1151.5,611.1 1153.0,612.6 1154.5,614.3 1156.0,616.0 1157.5,617.8 1158.9,619.8 1160.4,621.9 1162.0,624.0 1163.7,626.3 1165.4,628.7 1167.2,631.0 1169.0,633.0 1170.8,634.6 1172.6,635.9 1174.3,637.1 1176.0,638.0 1177.6,638.8 1179.1,639.3 1180.5,639.7 1182.0,640.0 1183.5,640.2 1184.9,640.3 1186.4,640.3 1188.0,640.0 1189.5,639.6 1191.1,639.0 1192.7,638.4 1194.4,637.7 1196.0,637.0 1197.6,636.3 1199.2,635.5 1200.8,634.7 1202.4,634.0 1204.0,633.4 1205.6,632.9 1207.3,632.5 1208.9,632.2 1210.5,632.1 1212.0,632.0 1213.6,632.1 1215.0,632.5 1216.4,633.0 1218.0,633.6 1219.5,634.2 1221.1,635.0 1222.7,635.9 1224.4,636.7 1226.0,637.4 1227.6,638.0 1229.2,638.6 1230.8,639.1 1232.4,639.6 1234.0,640.0 1235.6,640.3 1237.2,640.6 1238.8,640.8 1240.4,641.0 1242.0,641.0 1243.6,640.9 1245.2,640.6 1246.8,640.3 1248.4,639.9 1250.0,639.6 1251.6,639.3 1253.2,639.0 1254.8,638.7 1256.4,638.5 1258.0,638.4 1259.6,638.4 1261.2,638.6 1262.8,638.8 1264.4,639.0 1266.0,639.0 1267.6,638.9 1269.3,638.8 1271.0,638.6 1272.6,638.3 1274.0,638.0 1276.0,637.2 1277.7,636.3 1279.0,635.6 1280.0,635.0 1281.2,634.2 1282.7,633.0 1284.5,631.7 1286.3,630.4 1288.0,629.0 1289.6,627.6 1291.2,626.2 1292.8,624.8 1294.4,623.4 1296.0,622.0 1297.6,620.7 1299.2,619.4 1300.8,618.2 1302.4,617.0 1304.0,616.0 1305.6,615.1 1307.2,614.3 1308.8,613.6 1310.4,613.0 1312.0,612.6 1313.6,612.3 1315.2,612.2 1316.9,612.2 1318.5,612.3 1320.0,612.4 1321.8,612.8 1323.6,613.4 1325.3,613.9 1327.0,614.0 1328.7,613.6 1330.4,612.8 1332.2,611.9 1334.0,611.0 1335.5,610.3 1337.1,609.5 1338.8,608.8 1340.4,608.1 1342.0,607.6 1343.6,607.3 1345.2,607.1 1346.8,607.0 1348.4,607.0 1350.0,607.0 1351.6,607.1 1353.2,607.2 1354.8,607.3 1356.4,607.5 1358.0,607.6 1359.6,607.7 1361.2,607.7 1362.8,607.7 1364.4,607.7 1366.0,607.6 1367.6,607.5 1369.1,607.3 1370.7,607.0 1372.3,606.8 1374.0,606.6 1375.6,606.5 1377.4,606.3 1379.2,606.2 1380.9,606.1 1382.4,606.1 1383.4,606.0" fill="none" stroke="#ff6d00" stroke-width="1.2" stroke-linejoin="round"/>
</g>
<path d="M11 451.5H1627M11 558.5H1627" stroke="#e0e3eb" stroke-width="1"/>
<rect x="11" y="11" width="1616" height="665" fill="none" stroke="#eceef6" stroke-width="2"/>
<g clip-path="url(#cax1)">
<text x="1576.4" y="412.7" fill="#131722" font-size="13" font-weight="normal" text-anchor="start" textLength="40.4" lengthAdjust="spacingAndGlyphs" stroke="#131722" stroke-width="0.2">100.00</text>
<text x="1576.4" y="369.4" fill="#131722" font-size="13" font-weight="normal" text-anchor="start" textLength="40.4" lengthAdjust="spacingAndGlyphs" stroke="#131722" stroke-width="0.2">120.00</text>
<text x="1576.4" y="326.1" fill="#131722" font-size="13" font-weight="normal" text-anchor="start" textLength="40.4" lengthAdjust="spacingAndGlyphs" stroke="#131722" stroke-width="0.2">140.00</text>
<text x="1576.4" y="282.8" fill="#131722" font-size="13" font-weight="normal" text-anchor="start" textLength="40.4" lengthAdjust="spacingAndGlyphs" stroke="#131722" stroke-width="0.2">160.00</text>
<text x="1576.4" y="239.5" fill="#131722" font-size="13" font-weight="normal" text-anchor="start" textLength="40.4" lengthAdjust="spacingAndGlyphs" stroke="#131722" stroke-width="0.2">180.00</text>
<text x="1576.4" y="196.2" fill="#131722" font-size="13" font-weight="normal" text-anchor="start" textLength="40.4" lengthAdjust="spacingAndGlyphs" stroke="#131722" stroke-width="0.2">200.00</text>
<text x="1576.4" y="153.0" fill="#131722" font-size="13" font-weight="normal" text-anchor="start" textLength="40.4" lengthAdjust="spacingAndGlyphs" stroke="#131722" stroke-width="0.2">220.00</text>
<text x="1576.4" y="109.7" fill="#131722" font-size="13" font-weight="normal" text-anchor="start" textLength="40.4" lengthAdjust="spacingAndGlyphs" stroke="#131722" stroke-width="0.2">240.00</text>
<text x="1576.4" y="66.4" fill="#131722" font-size="13" font-weight="normal" text-anchor="start" textLength="40.4" lengthAdjust="spacingAndGlyphs" stroke="#131722" stroke-width="0.2">260.00</text>
<text x="1576.4" y="23.1" fill="#131722" font-size="13" font-weight="normal" text-anchor="start" textLength="40.4" lengthAdjust="spacingAndGlyphs" stroke="#131722" stroke-width="0.2">280.00</text>
<path d="M1567 218H1620.5a2 2 0 0 1 2 2V235a2 2 0 0 1 -2 2H1567z" fill="#4caf50"/><text x="1577.4" y="232.1" fill="#fff" font-size="13" font-weight="normal" text-anchor="start" textLength="40.4" lengthAdjust="spacingAndGlyphs" stroke="#fff" stroke-width="0.3">183.48</text>
<path d="M1567 319H1620.5a2 2 0 0 1 2 2V336a2 2 0 0 1 -2 2H1567z" fill="#089981"/><text x="1577.4" y="333.1" fill="#fff" font-size="13" font-weight="normal" text-anchor="start" textLength="40.4" lengthAdjust="spacingAndGlyphs" stroke="#fff" stroke-width="0.3">136.92</text>
<path d="M1567 338H1620.5a2 2 0 0 1 2 2V355a2 2 0 0 1 -2 2H1567z" fill="#2962ff"/><text x="1577.4" y="352.1" fill="#fff" font-size="13" font-weight="normal" text-anchor="start" textLength="40.4" lengthAdjust="spacingAndGlyphs" stroke="#fff" stroke-width="0.3">135.33</text>
</g>
<g clip-path="url(#cax2)">
<text x="1576.4" y="491.2" fill="#131722" font-size="13" font-weight="normal" text-anchor="start" textLength="33.2" lengthAdjust="spacingAndGlyphs" stroke="#131722" stroke-width="0.2">60.00</text>
<text x="1576.4" y="526.6" fill="#131722" font-size="13" font-weight="normal" text-anchor="start" textLength="33.2" lengthAdjust="spacingAndGlyphs" stroke="#131722" stroke-width="0.2">40.00</text>
<path d="M1567 492H1614a2 2 0 0 1 2 2V509a2 2 0 0 1 -2 2H1567z" fill="#7e57c2"/>
<text x="1577.4" y="506.1" fill="#fff" font-size="13" font-weight="normal" text-anchor="start" textLength="33.2" lengthAdjust="spacingAndGlyphs" stroke="#fff" stroke-width="0.3">51.31</text>
</g>
<g clip-path="url(#cax3)">
<text x="1576.4" y="564.0" fill="#131722" font-size="13" font-weight="normal" text-anchor="start" textLength="33.2" lengthAdjust="spacingAndGlyphs" stroke="#131722" stroke-width="0.2">10.00</text>
<path d="M1567 593H1607a2 2 0 0 1 2 2V610a2 2 0 0 1 -2 2H1567z" fill="#26a69a"/><text x="1577.4" y="607.1" fill="#fff" font-size="13" font-weight="normal" text-anchor="start" textLength="25.5" lengthAdjust="spacingAndGlyphs" stroke="#fff" stroke-width="0.3">0.27</text>
<path d="M1567 612H1614a2 2 0 0 1 2 2V629a2 2 0 0 1 -2 2H1567z" fill="#2196f3"/><text x="1577.4" y="626.1" fill="#fff" font-size="13" font-weight="normal" text-anchor="start" textLength="33.5" lengthAdjust="spacingAndGlyphs" stroke="#fff" stroke-width="0.3">−0.46</text>
<path d="M1567 631H1614a2 2 0 0 1 2 2V648a2 2 0 0 1 -2 2H1567z" fill="#ff6d00"/><text x="1577.4" y="645.1" fill="#fff" font-size="13" font-weight="normal" text-anchor="start" textLength="33.5" lengthAdjust="spacingAndGlyphs" stroke="#fff" stroke-width="0.3">−0.72</text>
</g>
<text x="48.5" y="664.6" fill="#131722" font-size="13" font-weight="normal" text-anchor="middle" stroke="#131722" stroke-width="0.2">May</text>
<text x="140.5" y="664.6" fill="#131722" font-size="13" font-weight="normal" text-anchor="middle" stroke="#131722" stroke-width="0.2">15:00</text>
<text x="232.5" y="664.6" fill="#131722" font-size="13" font-weight="normal" text-anchor="middle" stroke="#131722" stroke-width="0.2">Jun</text>
<text x="410.5" y="664.6" fill="#131722" font-size="13" font-weight="normal" text-anchor="middle" stroke="#131722" stroke-width="0.2">Jul</text>
<text x="502.5" y="664.6" fill="#131722" font-size="13" font-weight="normal" text-anchor="middle" stroke="#131722" stroke-width="0.2">15:00</text>
<text x="594.5" y="664.6" fill="#131722" font-size="13" font-weight="normal" text-anchor="middle" stroke="#131722" stroke-width="0.2">Aug</text>
<text x="686.5" y="664.6" fill="#131722" font-size="13" font-weight="normal" text-anchor="middle" stroke="#131722" stroke-width="0.2">15:00</text>
<text x="778.5" y="664.6" fill="#131722" font-size="13" font-weight="normal" text-anchor="middle" stroke="#131722" stroke-width="0.2">Sep</text>
<text x="956.5" y="664.6" fill="#131722" font-size="13" font-weight="normal" text-anchor="middle" stroke="#131722" stroke-width="0.2">Oct</text>
<text x="1048.5" y="664.6" fill="#131722" font-size="13" font-weight="normal" text-anchor="middle" stroke="#131722" stroke-width="0.2">15:00</text>
<text x="1140.5" y="664.6" fill="#131722" font-size="13" font-weight="normal" text-anchor="middle" stroke="#131722" stroke-width="0.2">Nov</text>
<text x="1318.5" y="664.6" fill="#131722" font-size="13" font-weight="normal" text-anchor="middle" stroke="#131722" stroke-width="0.2">Dec</text>
<text x="1410.5" y="664.6" fill="#131722" font-size="13" font-weight="normal" text-anchor="middle" stroke="#131722" stroke-width="0.2">15:00</text>
<text x="1502.5" y="664.6" fill="#131722" font-size="13" font-weight="bold" text-anchor="middle" stroke="#131722" stroke-width="0.2">2026</text>
<text x="20" y="32.6" fill="#131722" font-size="13" font-weight="normal" text-anchor="start" textLength="361.7" lengthAdjust="spacingAndGlyphs" stroke="#131722" stroke-width="0.2">SOL/USD, 12h, Pancakeswap V3 (BSC) | GeckoTerminal.com</text>
<text x="390.4" y="32.6" fill="#131722" font-size="13" font-weight="normal" text-anchor="start" stroke="#131722" stroke-width="0.2">O</text><text x="400.1" y="32.6" fill="#089981" font-size="13" font-weight="normal" text-anchor="start" textLength="39.7" lengthAdjust="spacingAndGlyphs" stroke="#089981" stroke-width="0.2">136.29</text>
<text x="448.5" y="32.6" fill="#131722" font-size="13" font-weight="normal" text-anchor="start" stroke="#131722" stroke-width="0.2">H</text><text x="457.8" y="32.6" fill="#089981" font-size="13" font-weight="normal" text-anchor="start" textLength="39.5" lengthAdjust="spacingAndGlyphs" stroke="#089981" stroke-width="0.2">137.77</text>
<text x="506" y="32.6" fill="#131722" font-size="13" font-weight="normal" text-anchor="start" stroke="#131722" stroke-width="0.2">L</text><text x="512.8" y="32.6" fill="#089981" font-size="13" font-weight="normal" text-anchor="start" textLength="39.1" lengthAdjust="spacingAndGlyphs" stroke="#089981" stroke-width="0.2">135.72</text>
<text x="561" y="32.6" fill="#131722" font-size="13" font-weight="normal" text-anchor="start" stroke="#131722" stroke-width="0.2">C</text><text x="569.3" y="32.6" fill="#089981" font-size="13" font-weight="normal" text-anchor="start" textLength="39.0" lengthAdjust="spacingAndGlyphs" stroke="#089981" stroke-width="0.2">136.92</text>
<text x="618" y="32.6" fill="#089981" font-size="13" font-weight="normal" text-anchor="start" textLength="87.4" lengthAdjust="spacingAndGlyphs" stroke="#089981" stroke-width="0.2">+0.63 (+0.46%)</text>
<text x="20" y="51.6" fill="#131722" font-size="13" font-weight="normal" text-anchor="start" textLength="101.5" lengthAdjust="spacingAndGlyphs" stroke="#131722" stroke-width="0.2">MA (50, close, 0)</text>
<text x="130" y="51.6" fill="#2962ff" font-size="13" font-weight="normal" text-anchor="start" textLength="39.5" lengthAdjust="spacingAndGlyphs" stroke="#2962ff" stroke-width="0.2">135.33</text>
<text x="20" y="70.6" fill="#131722" font-size="13" font-weight="normal" text-anchor="start" textLength="108.5" lengthAdjust="spacingAndGlyphs" stroke="#131722" stroke-width="0.2">MA (200, close, 0)</text>
<text x="137" y="70.6" fill="#4caf50" font-size="13" font-weight="normal" text-anchor="start" textLength="39.5" lengthAdjust="spacingAndGlyphs" stroke="#4caf50" stroke-width="0.2">183.48</text>
<text x="20" y="473.4" fill="#131722" font-size="13" font-weight="normal" text-anchor="start" textLength="45.5" lengthAdjust="spacingAndGlyphs" stroke="#131722" stroke-width="0.2">RSI (14)</text>
<text x="74.5" y="473.4" fill="#7e57c2" font-size="13" font-weight="normal" text-anchor="start" textLength="31.5" lengthAdjust="spacingAndGlyphs" stroke="#7e57c2" stroke-width="0.2">51.31</text>
<text x="20" y="580.8" fill="#131722" font-size="13" font-weight="normal" text-anchor="start" textLength="140.5" lengthAdjust="spacingAndGlyphs" stroke="#131722" stroke-width="0.2">MACD (12, 26, close, 9)</text>
<text x="169.5" y="580.8" fill="#26a69a" font-size="13" font-weight="normal" text-anchor="start" textLength="24.5" lengthAdjust="spacingAndGlyphs" stroke="#26a69a" stroke-width="0.2">0.27</text>
<text x="204" y="580.8" fill="#2196f3" font-size="13" font-weight="normal" text-anchor="start" textLength="32.5" lengthAdjust="spacingAndGlyphs" stroke="#2196f3" stroke-width="0.2">−0.46</text>
<text x="245.6" y="580.8" fill="#ff6d00" font-size="13" font-weight="normal" text-anchor="start" textLength="32.5" lengthAdjust="spacingAndGlyphs" stroke="#ff6d00" stroke-width="0.2">−0.72</text>
<g fill="#131722">
<path d="M11 689.2h9v10.9h-4.6v-6.4H11z"/>
<circle cx="23.2" cy="691.5" r="2.3"/>
<path d="M28.3 689.2h5l-4.6 10.9h-5z"/>
</g>
<text x="38.4" y="700.2" fill="#131722" font-size="14" font-weight="normal" text-anchor="start" textLength="78.4" lengthAdjust="spacingAndGlyphs" stroke="#131722" stroke-width="0.2">TradingView</text>
</svg></body></html>
